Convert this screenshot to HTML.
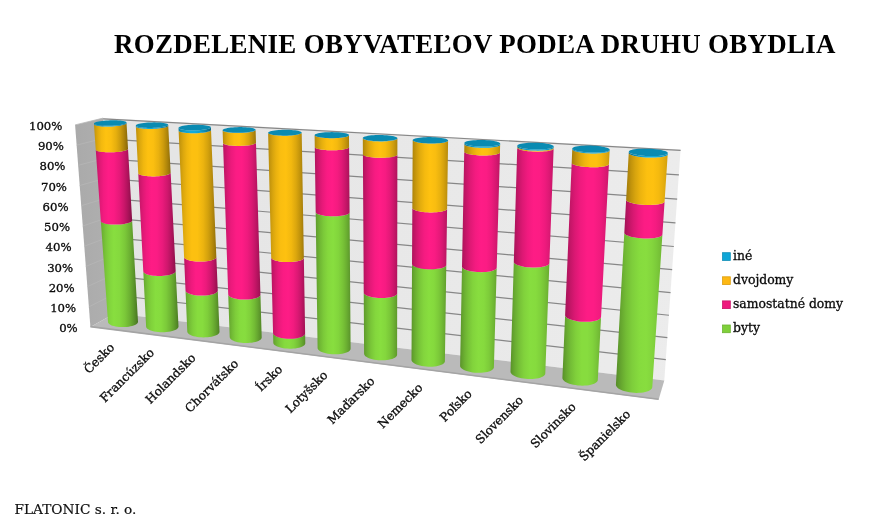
<!DOCTYPE html>
<html lang="sk"><head><meta charset="utf-8"><title>Rozdelenie obyvateľov podľa druhu obydlia</title>
<style>
html,body{margin:0;padding:0;background:#fff}
body{width:874px;height:529px;position:relative;overflow:hidden;font-family:"Liberation Serif",serif;color:#000}
h1{position:absolute;left:114px;top:29px;margin:0;font:bold 26.9px/30px "Liberation Serif",serif;white-space:nowrap;letter-spacing:0.33px}
.foot{position:absolute;left:14.5px;top:500.2px;font:13.68px/18px "DejaVu Serif","Liberation Serif",serif;white-space:nowrap;color:#111;-webkit-text-stroke:0.2px #111}
svg text{font-family:"DejaVu Serif","Liberation Serif",serif;fill:#0c0c0c;stroke:#0c0c0c;stroke-width:0.32px}
.ax{font-size:11.7px}
.cat{font-size:12px}
.leg{font-size:12.4px}
</style></head><body>
<h1>ROZDELENIE OBYVATEĽOV PODĽA DRUHU OBYDLIA</h1>
<svg width="874" height="529" viewBox="0 0 874 529" style="position:absolute;left:0;top:0">
<defs>
<linearGradient id="g_top" x1="0" x2="1" y1="0" y2="0"><stop offset="0" stop-color="#0a89b0"/><stop offset="1" stop-color="#0a8cb3"/></linearGradient>
<linearGradient id="g_bw" x1="0" x2="1" y1="0" y2="0"><stop offset="0" stop-color="#e4e4e4"/><stop offset="1" stop-color="#ececec"/></linearGradient>
<linearGradient id="g_sw" x1="0" x2="1" y1="0" y2="0"><stop offset="0" stop-color="#aaaaaa"/><stop offset="1" stop-color="#b0b0b0"/></linearGradient>
</defs>
<defs><linearGradient id="g_green_0"><stop offset="0" stop-color="#66a62f"/><stop offset="0.03" stop-color="#6baf32"/><stop offset="0.07" stop-color="#71b834"/><stop offset="0.13" stop-color="#79c538"/><stop offset="0.22" stop-color="#81d33c"/><stop offset="0.35" stop-color="#88de3f"/><stop offset="0.5" stop-color="#85d93e"/><stop offset="0.65" stop-color="#7bc839"/><stop offset="0.78" stop-color="#6cb032"/><stop offset="0.87" stop-color="#5e9a2c"/><stop offset="0.93" stop-color="#548927"/><stop offset="0.97" stop-color="#4d7d23"/><stop offset="1" stop-color="#477321"/></linearGradient><linearGradient id="g_pink_0"><stop offset="0" stop-color="#bf1564"/><stop offset="0.03" stop-color="#c81669"/><stop offset="0.07" stop-color="#d4176f"/><stop offset="0.13" stop-color="#e21977"/><stop offset="0.22" stop-color="#f31b80"/><stop offset="0.35" stop-color="#fe1c86"/><stop offset="0.5" stop-color="#fa1b83"/><stop offset="0.65" stop-color="#e61979"/><stop offset="0.78" stop-color="#ca166a"/><stop offset="0.87" stop-color="#b1135d"/><stop offset="0.93" stop-color="#9e1153"/><stop offset="0.97" stop-color="#90104b"/><stop offset="1" stop-color="#850f46"/></linearGradient><linearGradient id="g_yellow_0"><stop offset="0" stop-color="#bf920c"/><stop offset="0.03" stop-color="#c8990d"/><stop offset="0.07" stop-color="#d4a10d"/><stop offset="0.13" stop-color="#e2ac0e"/><stop offset="0.22" stop-color="#f3b90f"/><stop offset="0.35" stop-color="#fec210"/><stop offset="0.5" stop-color="#fabe10"/><stop offset="0.65" stop-color="#e6af0e"/><stop offset="0.78" stop-color="#ca9a0d"/><stop offset="0.87" stop-color="#b1860b"/><stop offset="0.93" stop-color="#9e780a"/><stop offset="0.97" stop-color="#906d09"/><stop offset="1" stop-color="#856508"/></linearGradient><linearGradient id="g_blue_0"><stop offset="0" stop-color="#0d81a5"/><stop offset="0.03" stop-color="#0d87ad"/><stop offset="0.07" stop-color="#0e8fb7"/><stop offset="0.13" stop-color="#0f99c3"/><stop offset="0.22" stop-color="#10a4d1"/><stop offset="0.35" stop-color="#11acdc"/><stop offset="0.5" stop-color="#11a8d7"/><stop offset="0.65" stop-color="#0f9bc6"/><stop offset="0.78" stop-color="#0d88ae"/><stop offset="0.87" stop-color="#0c7798"/><stop offset="0.93" stop-color="#0b6a88"/><stop offset="0.97" stop-color="#0a617c"/><stop offset="1" stop-color="#095972"/></linearGradient><linearGradient id="g_green_1"><stop offset="0" stop-color="#65a42f"/><stop offset="0.03" stop-color="#69ac31"/><stop offset="0.07" stop-color="#6fb634"/><stop offset="0.13" stop-color="#77c337"/><stop offset="0.22" stop-color="#80d13b"/><stop offset="0.35" stop-color="#87dd3f"/><stop offset="0.5" stop-color="#86db3e"/><stop offset="0.65" stop-color="#7ccb3a"/><stop offset="0.78" stop-color="#6eb433"/><stop offset="0.87" stop-color="#619f2d"/><stop offset="0.93" stop-color="#578f28"/><stop offset="0.97" stop-color="#508325"/><stop offset="1" stop-color="#4a7922"/></linearGradient><linearGradient id="g_pink_1"><stop offset="0" stop-color="#bc1563"/><stop offset="0.03" stop-color="#c61668"/><stop offset="0.07" stop-color="#d1176e"/><stop offset="0.13" stop-color="#df1975"/><stop offset="0.22" stop-color="#f01a7e"/><stop offset="0.35" stop-color="#fe1c85"/><stop offset="0.5" stop-color="#fb1c84"/><stop offset="0.65" stop-color="#e91a7b"/><stop offset="0.78" stop-color="#cf176d"/><stop offset="0.87" stop-color="#b61460"/><stop offset="0.93" stop-color="#a41256"/><stop offset="0.97" stop-color="#96114f"/><stop offset="1" stop-color="#8c0f49"/></linearGradient><linearGradient id="g_yellow_1"><stop offset="0" stop-color="#bc8f0c"/><stop offset="0.03" stop-color="#c6960c"/><stop offset="0.07" stop-color="#d19f0d"/><stop offset="0.13" stop-color="#dfaa0e"/><stop offset="0.22" stop-color="#f0b70f"/><stop offset="0.35" stop-color="#fec110"/><stop offset="0.5" stop-color="#fbbf10"/><stop offset="0.65" stop-color="#e9b10f"/><stop offset="0.78" stop-color="#cf9d0d"/><stop offset="0.87" stop-color="#b68b0b"/><stop offset="0.93" stop-color="#a47d0a"/><stop offset="0.97" stop-color="#967209"/><stop offset="1" stop-color="#8c6a09"/></linearGradient><linearGradient id="g_blue_1"><stop offset="0" stop-color="#0d7fa3"/><stop offset="0.03" stop-color="#0d85ab"/><stop offset="0.07" stop-color="#0e8db4"/><stop offset="0.13" stop-color="#0f97c1"/><stop offset="0.22" stop-color="#10a2cf"/><stop offset="0.35" stop-color="#11abdb"/><stop offset="0.5" stop-color="#11a9d9"/><stop offset="0.65" stop-color="#109dc9"/><stop offset="0.78" stop-color="#0e8bb2"/><stop offset="0.87" stop-color="#0c7b9d"/><stop offset="0.93" stop-color="#0b6e8d"/><stop offset="0.97" stop-color="#0a6582"/><stop offset="1" stop-color="#095e78"/></linearGradient><linearGradient id="g_green_2"><stop offset="0" stop-color="#63a22e"/><stop offset="0.03" stop-color="#68aa30"/><stop offset="0.07" stop-color="#6eb333"/><stop offset="0.13" stop-color="#76c037"/><stop offset="0.22" stop-color="#7fcf3b"/><stop offset="0.35" stop-color="#87dc3e"/><stop offset="0.5" stop-color="#87dc3e"/><stop offset="0.65" stop-color="#7ece3a"/><stop offset="0.78" stop-color="#71b834"/><stop offset="0.87" stop-color="#64a42e"/><stop offset="0.93" stop-color="#5b942a"/><stop offset="0.97" stop-color="#548927"/><stop offset="1" stop-color="#4e8024"/></linearGradient><linearGradient id="g_pink_2"><stop offset="0" stop-color="#ba1462"/><stop offset="0.03" stop-color="#c31566"/><stop offset="0.07" stop-color="#ce176c"/><stop offset="0.13" stop-color="#dd1874"/><stop offset="0.22" stop-color="#ee1a7d"/><stop offset="0.35" stop-color="#fd1c85"/><stop offset="0.5" stop-color="#fc1c85"/><stop offset="0.65" stop-color="#ec1a7c"/><stop offset="0.78" stop-color="#d3176f"/><stop offset="0.87" stop-color="#bc1563"/><stop offset="0.93" stop-color="#aa1359"/><stop offset="0.97" stop-color="#9d1152"/><stop offset="1" stop-color="#93104d"/></linearGradient><linearGradient id="g_yellow_2"><stop offset="0" stop-color="#ba8d0c"/><stop offset="0.03" stop-color="#c3940c"/><stop offset="0.07" stop-color="#ce9d0d"/><stop offset="0.13" stop-color="#dda80e"/><stop offset="0.22" stop-color="#eeb50f"/><stop offset="0.35" stop-color="#fdc010"/><stop offset="0.5" stop-color="#fcc010"/><stop offset="0.65" stop-color="#ecb40f"/><stop offset="0.78" stop-color="#d3a10d"/><stop offset="0.87" stop-color="#bc8f0c"/><stop offset="0.93" stop-color="#aa810b"/><stop offset="0.97" stop-color="#9d770a"/><stop offset="1" stop-color="#936f09"/></linearGradient><linearGradient id="g_blue_2"><stop offset="0" stop-color="#0c7da0"/><stop offset="0.03" stop-color="#0d83a8"/><stop offset="0.07" stop-color="#0e8bb2"/><stop offset="0.13" stop-color="#0f95be"/><stop offset="0.22" stop-color="#10a1cd"/><stop offset="0.35" stop-color="#11aada"/><stop offset="0.5" stop-color="#11aada"/><stop offset="0.65" stop-color="#109fcc"/><stop offset="0.78" stop-color="#0e8eb6"/><stop offset="0.87" stop-color="#0d7fa2"/><stop offset="0.93" stop-color="#0b7393"/><stop offset="0.97" stop-color="#0a6a87"/><stop offset="1" stop-color="#0a637e"/></linearGradient><linearGradient id="g_green_3"><stop offset="0" stop-color="#629f2d"/><stop offset="0.03" stop-color="#66a72f"/><stop offset="0.07" stop-color="#6cb132"/><stop offset="0.13" stop-color="#74be36"/><stop offset="0.22" stop-color="#7ecd3a"/><stop offset="0.35" stop-color="#86db3e"/><stop offset="0.5" stop-color="#87dd3f"/><stop offset="0.65" stop-color="#80d03b"/><stop offset="0.78" stop-color="#73bc35"/><stop offset="0.87" stop-color="#67a830"/><stop offset="0.93" stop-color="#5e992c"/><stop offset="0.97" stop-color="#578e28"/><stop offset="1" stop-color="#528626"/></linearGradient><linearGradient id="g_pink_3"><stop offset="0" stop-color="#b71460"/><stop offset="0.03" stop-color="#c01565"/><stop offset="0.07" stop-color="#cb166b"/><stop offset="0.13" stop-color="#da1873"/><stop offset="0.22" stop-color="#ec1a7c"/><stop offset="0.35" stop-color="#fb1c84"/><stop offset="0.5" stop-color="#fe1c85"/><stop offset="0.65" stop-color="#ef1a7e"/><stop offset="0.78" stop-color="#d81871"/><stop offset="0.87" stop-color="#c21566"/><stop offset="0.93" stop-color="#b0135d"/><stop offset="0.97" stop-color="#a41256"/><stop offset="1" stop-color="#991151"/></linearGradient><linearGradient id="g_yellow_3"><stop offset="0" stop-color="#b78b0b"/><stop offset="0.03" stop-color="#c0920c"/><stop offset="0.07" stop-color="#cb9b0d"/><stop offset="0.13" stop-color="#daa60e"/><stop offset="0.22" stop-color="#ecb30f"/><stop offset="0.35" stop-color="#fbbf10"/><stop offset="0.5" stop-color="#fec110"/><stop offset="0.65" stop-color="#efb60f"/><stop offset="0.78" stop-color="#d8a40e"/><stop offset="0.87" stop-color="#c2930c"/><stop offset="0.93" stop-color="#b0860b"/><stop offset="0.97" stop-color="#a47c0a"/><stop offset="1" stop-color="#99750a"/></linearGradient><linearGradient id="g_blue_3"><stop offset="0" stop-color="#0c7b9e"/><stop offset="0.03" stop-color="#0d81a6"/><stop offset="0.07" stop-color="#0e89af"/><stop offset="0.13" stop-color="#0f93bc"/><stop offset="0.22" stop-color="#109fcb"/><stop offset="0.35" stop-color="#11aad9"/><stop offset="0.5" stop-color="#11abdb"/><stop offset="0.65" stop-color="#10a1ce"/><stop offset="0.78" stop-color="#0e91ba"/><stop offset="0.87" stop-color="#0d83a7"/><stop offset="0.93" stop-color="#0c7798"/><stop offset="0.97" stop-color="#0b6e8d"/><stop offset="1" stop-color="#0a6884"/></linearGradient><linearGradient id="g_green_4"><stop offset="0" stop-color="#609d2d"/><stop offset="0.03" stop-color="#65a52f"/><stop offset="0.07" stop-color="#6bae31"/><stop offset="0.13" stop-color="#73bb35"/><stop offset="0.22" stop-color="#7ccb3a"/><stop offset="0.35" stop-color="#85da3e"/><stop offset="0.5" stop-color="#88dd3f"/><stop offset="0.65" stop-color="#81d33c"/><stop offset="0.78" stop-color="#75c036"/><stop offset="0.87" stop-color="#6aad31"/><stop offset="0.93" stop-color="#619f2d"/><stop offset="0.97" stop-color="#5b942a"/><stop offset="1" stop-color="#568c28"/></linearGradient><linearGradient id="g_pink_4"><stop offset="0" stop-color="#b4145f"/><stop offset="0.03" stop-color="#bd1563"/><stop offset="0.07" stop-color="#c81669"/><stop offset="0.13" stop-color="#d71871"/><stop offset="0.22" stop-color="#e91a7b"/><stop offset="0.35" stop-color="#fa1b83"/><stop offset="0.5" stop-color="#fe1c86"/><stop offset="0.65" stop-color="#f21b7f"/><stop offset="0.78" stop-color="#dc1874"/><stop offset="0.87" stop-color="#c71669"/><stop offset="0.93" stop-color="#b61460"/><stop offset="0.97" stop-color="#aa1359"/><stop offset="1" stop-color="#a01254"/></linearGradient><linearGradient id="g_yellow_4"><stop offset="0" stop-color="#b4890b"/><stop offset="0.03" stop-color="#bd900c"/><stop offset="0.07" stop-color="#c8980d"/><stop offset="0.13" stop-color="#d7a40e"/><stop offset="0.22" stop-color="#e9b10f"/><stop offset="0.35" stop-color="#fabe10"/><stop offset="0.5" stop-color="#fec110"/><stop offset="0.65" stop-color="#f2b80f"/><stop offset="0.78" stop-color="#dca70e"/><stop offset="0.87" stop-color="#c7970c"/><stop offset="0.93" stop-color="#b68b0b"/><stop offset="0.97" stop-color="#aa810b"/><stop offset="1" stop-color="#a07a0a"/></linearGradient><linearGradient id="g_blue_4"><stop offset="0" stop-color="#0c799b"/><stop offset="0.03" stop-color="#0d80a3"/><stop offset="0.07" stop-color="#0d87ad"/><stop offset="0.13" stop-color="#0e91ba"/><stop offset="0.22" stop-color="#109dc9"/><stop offset="0.35" stop-color="#11a9d8"/><stop offset="0.5" stop-color="#11acdb"/><stop offset="0.65" stop-color="#10a3d1"/><stop offset="0.78" stop-color="#0f94be"/><stop offset="0.87" stop-color="#0d86ac"/><stop offset="0.93" stop-color="#0c7b9d"/><stop offset="0.97" stop-color="#0b7393"/><stop offset="1" stop-color="#0b6c8a"/></linearGradient><linearGradient id="g_green_5"><stop offset="0" stop-color="#5f9a2c"/><stop offset="0.03" stop-color="#63a22e"/><stop offset="0.07" stop-color="#69ac31"/><stop offset="0.13" stop-color="#71b934"/><stop offset="0.22" stop-color="#7bc939"/><stop offset="0.35" stop-color="#85d83d"/><stop offset="0.5" stop-color="#88de3f"/><stop offset="0.65" stop-color="#82d53c"/><stop offset="0.78" stop-color="#78c337"/><stop offset="0.87" stop-color="#6db232"/><stop offset="0.93" stop-color="#64a42f"/><stop offset="0.97" stop-color="#5e9a2c"/><stop offset="1" stop-color="#599229"/></linearGradient><linearGradient id="g_pink_5"><stop offset="0" stop-color="#b1135d"/><stop offset="0.03" stop-color="#ba1462"/><stop offset="0.07" stop-color="#c51668"/><stop offset="0.13" stop-color="#d41770"/><stop offset="0.22" stop-color="#e71979"/><stop offset="0.35" stop-color="#f91b83"/><stop offset="0.5" stop-color="#ff1c86"/><stop offset="0.65" stop-color="#f51b80"/><stop offset="0.78" stop-color="#e01976"/><stop offset="0.87" stop-color="#cc166b"/><stop offset="0.93" stop-color="#bc1563"/><stop offset="0.97" stop-color="#b1135d"/><stop offset="1" stop-color="#a71258"/></linearGradient><linearGradient id="g_yellow_5"><stop offset="0" stop-color="#b1870b"/><stop offset="0.03" stop-color="#ba8e0c"/><stop offset="0.07" stop-color="#c5960c"/><stop offset="0.13" stop-color="#d4a20d"/><stop offset="0.22" stop-color="#e7b00e"/><stop offset="0.35" stop-color="#f9bd10"/><stop offset="0.5" stop-color="#ffc210"/><stop offset="0.65" stop-color="#f5ba0f"/><stop offset="0.78" stop-color="#e0ab0e"/><stop offset="0.87" stop-color="#cc9b0d"/><stop offset="0.93" stop-color="#bc8f0c"/><stop offset="0.97" stop-color="#b1860b"/><stop offset="1" stop-color="#a77f0b"/></linearGradient><linearGradient id="g_blue_5"><stop offset="0" stop-color="#0c7899"/><stop offset="0.03" stop-color="#0c7ea1"/><stop offset="0.07" stop-color="#0d85aa"/><stop offset="0.13" stop-color="#0e8fb7"/><stop offset="0.22" stop-color="#0f9cc7"/><stop offset="0.35" stop-color="#11a8d6"/><stop offset="0.5" stop-color="#11acdc"/><stop offset="0.65" stop-color="#10a5d3"/><stop offset="0.78" stop-color="#0f97c1"/><stop offset="0.87" stop-color="#0e8ab0"/><stop offset="0.93" stop-color="#0d7fa3"/><stop offset="0.97" stop-color="#0c7798"/><stop offset="1" stop-color="#0b7190"/></linearGradient><linearGradient id="g_green_6"><stop offset="0" stop-color="#5d982b"/><stop offset="0.03" stop-color="#62a02d"/><stop offset="0.07" stop-color="#68a930"/><stop offset="0.13" stop-color="#70b634"/><stop offset="0.22" stop-color="#7ac738"/><stop offset="0.35" stop-color="#84d73d"/><stop offset="0.5" stop-color="#88de3f"/><stop offset="0.65" stop-color="#84d73d"/><stop offset="0.78" stop-color="#7ac738"/><stop offset="0.87" stop-color="#70b634"/><stop offset="0.93" stop-color="#68a930"/><stop offset="0.97" stop-color="#62a02d"/><stop offset="1" stop-color="#5d982b"/></linearGradient><linearGradient id="g_pink_6"><stop offset="0" stop-color="#af135c"/><stop offset="0.03" stop-color="#b71460"/><stop offset="0.07" stop-color="#c31566"/><stop offset="0.13" stop-color="#d2176e"/><stop offset="0.22" stop-color="#e41978"/><stop offset="0.35" stop-color="#f71b82"/><stop offset="0.5" stop-color="#ff1c86"/><stop offset="0.65" stop-color="#f71b82"/><stop offset="0.78" stop-color="#e41978"/><stop offset="0.87" stop-color="#d1176e"/><stop offset="0.93" stop-color="#c21566"/><stop offset="0.97" stop-color="#b71460"/><stop offset="1" stop-color="#ae135c"/></linearGradient><linearGradient id="g_yellow_6"><stop offset="0" stop-color="#af850b"/><stop offset="0.03" stop-color="#b78c0c"/><stop offset="0.07" stop-color="#c3940c"/><stop offset="0.13" stop-color="#d29f0d"/><stop offset="0.22" stop-color="#e4ae0e"/><stop offset="0.35" stop-color="#f7bc0f"/><stop offset="0.5" stop-color="#ffc210"/><stop offset="0.65" stop-color="#f7bc0f"/><stop offset="0.78" stop-color="#e4ae0e"/><stop offset="0.87" stop-color="#d19f0d"/><stop offset="0.93" stop-color="#c2940c"/><stop offset="0.97" stop-color="#b78b0b"/><stop offset="1" stop-color="#ae850b"/></linearGradient><linearGradient id="g_blue_6"><stop offset="0" stop-color="#0c7697"/><stop offset="0.03" stop-color="#0c7c9e"/><stop offset="0.07" stop-color="#0d83a8"/><stop offset="0.13" stop-color="#0e8db5"/><stop offset="0.22" stop-color="#0f9ac5"/><stop offset="0.35" stop-color="#10a6d5"/><stop offset="0.5" stop-color="#11acdc"/><stop offset="0.65" stop-color="#10a6d5"/><stop offset="0.78" stop-color="#0f9ac5"/><stop offset="0.87" stop-color="#0e8db5"/><stop offset="0.93" stop-color="#0d83a8"/><stop offset="0.97" stop-color="#0c7c9e"/><stop offset="1" stop-color="#0c7696"/></linearGradient><linearGradient id="g_green_7"><stop offset="0" stop-color="#5c962a"/><stop offset="0.03" stop-color="#609d2d"/><stop offset="0.07" stop-color="#66a72f"/><stop offset="0.13" stop-color="#6eb433"/><stop offset="0.22" stop-color="#78c538"/><stop offset="0.35" stop-color="#83d53d"/><stop offset="0.5" stop-color="#88de3f"/><stop offset="0.65" stop-color="#85d93d"/><stop offset="0.78" stop-color="#7cca39"/><stop offset="0.87" stop-color="#72bb35"/><stop offset="0.93" stop-color="#6bae32"/><stop offset="0.97" stop-color="#65a52f"/><stop offset="1" stop-color="#619e2d"/></linearGradient><linearGradient id="g_pink_7"><stop offset="0" stop-color="#ac135a"/><stop offset="0.03" stop-color="#b5145f"/><stop offset="0.07" stop-color="#c01565"/><stop offset="0.13" stop-color="#cf176d"/><stop offset="0.22" stop-color="#e21977"/><stop offset="0.35" stop-color="#f51b81"/><stop offset="0.5" stop-color="#ff1c86"/><stop offset="0.65" stop-color="#f91b83"/><stop offset="0.78" stop-color="#e8197a"/><stop offset="0.87" stop-color="#d71871"/><stop offset="0.93" stop-color="#c81669"/><stop offset="0.97" stop-color="#be1564"/><stop offset="1" stop-color="#b5145f"/></linearGradient><linearGradient id="g_yellow_7"><stop offset="0" stop-color="#ac830b"/><stop offset="0.03" stop-color="#b5890b"/><stop offset="0.07" stop-color="#c0920c"/><stop offset="0.13" stop-color="#cf9d0d"/><stop offset="0.22" stop-color="#e2ac0e"/><stop offset="0.35" stop-color="#f5ba0f"/><stop offset="0.5" stop-color="#ffc210"/><stop offset="0.65" stop-color="#f9bd10"/><stop offset="0.78" stop-color="#e8b10f"/><stop offset="0.87" stop-color="#d7a30d"/><stop offset="0.93" stop-color="#c8980d"/><stop offset="0.97" stop-color="#be900c"/><stop offset="1" stop-color="#b58a0b"/></linearGradient><linearGradient id="g_blue_7"><stop offset="0" stop-color="#0b7494"/><stop offset="0.03" stop-color="#0c7a9c"/><stop offset="0.07" stop-color="#0d81a5"/><stop offset="0.13" stop-color="#0e8cb2"/><stop offset="0.22" stop-color="#0f98c3"/><stop offset="0.35" stop-color="#10a5d3"/><stop offset="0.5" stop-color="#11acdc"/><stop offset="0.65" stop-color="#11a8d7"/><stop offset="0.78" stop-color="#0f9cc8"/><stop offset="0.87" stop-color="#0e91b9"/><stop offset="0.93" stop-color="#0d87ad"/><stop offset="0.97" stop-color="#0d80a4"/><stop offset="1" stop-color="#0c7a9c"/></linearGradient><linearGradient id="g_green_8"><stop offset="0" stop-color="#5a932a"/><stop offset="0.03" stop-color="#5f9b2c"/><stop offset="0.07" stop-color="#65a42f"/><stop offset="0.13" stop-color="#6db232"/><stop offset="0.22" stop-color="#77c237"/><stop offset="0.35" stop-color="#82d43c"/><stop offset="0.5" stop-color="#88dd3f"/><stop offset="0.65" stop-color="#86da3e"/><stop offset="0.78" stop-color="#7ecd3a"/><stop offset="0.87" stop-color="#75bf36"/><stop offset="0.93" stop-color="#6eb433"/><stop offset="0.97" stop-color="#69ab30"/><stop offset="1" stop-color="#64a42f"/></linearGradient><linearGradient id="g_pink_8"><stop offset="0" stop-color="#a91359"/><stop offset="0.03" stop-color="#b2145d"/><stop offset="0.07" stop-color="#bd1563"/><stop offset="0.13" stop-color="#cc166b"/><stop offset="0.22" stop-color="#df1975"/><stop offset="0.35" stop-color="#f31b80"/><stop offset="0.5" stop-color="#fe1c86"/><stop offset="0.65" stop-color="#fb1c84"/><stop offset="0.78" stop-color="#ec1a7c"/><stop offset="0.87" stop-color="#db1873"/><stop offset="0.93" stop-color="#ce176c"/><stop offset="0.97" stop-color="#c41667"/><stop offset="1" stop-color="#bc1563"/></linearGradient><linearGradient id="g_yellow_8"><stop offset="0" stop-color="#a9810b"/><stop offset="0.03" stop-color="#b2870b"/><stop offset="0.07" stop-color="#bd900c"/><stop offset="0.13" stop-color="#cc9b0d"/><stop offset="0.22" stop-color="#dfaa0e"/><stop offset="0.35" stop-color="#f3b90f"/><stop offset="0.5" stop-color="#fec210"/><stop offset="0.65" stop-color="#fbbf10"/><stop offset="0.78" stop-color="#ecb30f"/><stop offset="0.87" stop-color="#dba70e"/><stop offset="0.93" stop-color="#ce9d0d"/><stop offset="0.97" stop-color="#c4950c"/><stop offset="1" stop-color="#bc8f0c"/></linearGradient><linearGradient id="g_blue_8"><stop offset="0" stop-color="#0b7292"/><stop offset="0.03" stop-color="#0c7899"/><stop offset="0.07" stop-color="#0d7fa3"/><stop offset="0.13" stop-color="#0e8ab0"/><stop offset="0.22" stop-color="#0f97c1"/><stop offset="0.35" stop-color="#10a4d2"/><stop offset="0.5" stop-color="#11acdb"/><stop offset="0.65" stop-color="#11a9d8"/><stop offset="0.78" stop-color="#109fcb"/><stop offset="0.87" stop-color="#0f94bd"/><stop offset="0.93" stop-color="#0e8bb2"/><stop offset="0.97" stop-color="#0d84a9"/><stop offset="1" stop-color="#0d7fa2"/></linearGradient><linearGradient id="g_green_9"><stop offset="0" stop-color="#599129"/><stop offset="0.03" stop-color="#5d982b"/><stop offset="0.07" stop-color="#63a22e"/><stop offset="0.13" stop-color="#6baf32"/><stop offset="0.22" stop-color="#76c037"/><stop offset="0.35" stop-color="#81d23c"/><stop offset="0.5" stop-color="#87dd3f"/><stop offset="0.65" stop-color="#86db3e"/><stop offset="0.78" stop-color="#7fd03b"/><stop offset="0.87" stop-color="#78c337"/><stop offset="0.93" stop-color="#71b934"/><stop offset="0.97" stop-color="#6cb032"/><stop offset="1" stop-color="#68aa30"/></linearGradient><linearGradient id="g_pink_9"><stop offset="0" stop-color="#a61257"/><stop offset="0.03" stop-color="#af135c"/><stop offset="0.07" stop-color="#ba1462"/><stop offset="0.13" stop-color="#c9166a"/><stop offset="0.22" stop-color="#dd1874"/><stop offset="0.35" stop-color="#f11a7f"/><stop offset="0.5" stop-color="#fe1c85"/><stop offset="0.65" stop-color="#fc1c84"/><stop offset="0.78" stop-color="#ef1a7e"/><stop offset="0.87" stop-color="#e01976"/><stop offset="0.93" stop-color="#d4176f"/><stop offset="0.97" stop-color="#cb166b"/><stop offset="1" stop-color="#c31567"/></linearGradient><linearGradient id="g_yellow_9"><stop offset="0" stop-color="#a67e0a"/><stop offset="0.03" stop-color="#af850b"/><stop offset="0.07" stop-color="#ba8e0c"/><stop offset="0.13" stop-color="#c9990d"/><stop offset="0.22" stop-color="#dda80e"/><stop offset="0.35" stop-color="#f1b80f"/><stop offset="0.5" stop-color="#fec110"/><stop offset="0.65" stop-color="#fcc010"/><stop offset="0.78" stop-color="#efb60f"/><stop offset="0.87" stop-color="#e0ab0e"/><stop offset="0.93" stop-color="#d4a10d"/><stop offset="0.97" stop-color="#cb9a0d"/><stop offset="1" stop-color="#c3940c"/></linearGradient><linearGradient id="g_blue_9"><stop offset="0" stop-color="#0b708f"/><stop offset="0.03" stop-color="#0c7697"/><stop offset="0.07" stop-color="#0c7ea1"/><stop offset="0.13" stop-color="#0d88ae"/><stop offset="0.22" stop-color="#0f95be"/><stop offset="0.35" stop-color="#10a3d0"/><stop offset="0.5" stop-color="#11abdb"/><stop offset="0.65" stop-color="#11aad9"/><stop offset="0.78" stop-color="#10a1ce"/><stop offset="0.87" stop-color="#0f97c1"/><stop offset="0.93" stop-color="#0e8fb7"/><stop offset="0.97" stop-color="#0e89af"/><stop offset="1" stop-color="#0d84a8"/></linearGradient><linearGradient id="g_green_10"><stop offset="0" stop-color="#578e28"/><stop offset="0.03" stop-color="#5c962b"/><stop offset="0.07" stop-color="#62a02d"/><stop offset="0.13" stop-color="#6aad31"/><stop offset="0.22" stop-color="#74be36"/><stop offset="0.35" stop-color="#80d03b"/><stop offset="0.5" stop-color="#87dc3e"/><stop offset="0.65" stop-color="#87dc3f"/><stop offset="0.78" stop-color="#81d33c"/><stop offset="0.87" stop-color="#7ac739"/><stop offset="0.93" stop-color="#74bd36"/><stop offset="0.97" stop-color="#70b634"/><stop offset="1" stop-color="#6cb032"/></linearGradient><linearGradient id="g_pink_10"><stop offset="0" stop-color="#a31256"/><stop offset="0.03" stop-color="#ac135b"/><stop offset="0.07" stop-color="#b71460"/><stop offset="0.13" stop-color="#c61668"/><stop offset="0.22" stop-color="#da1873"/><stop offset="0.35" stop-color="#ef1a7e"/><stop offset="0.5" stop-color="#fd1c85"/><stop offset="0.65" stop-color="#fd1c85"/><stop offset="0.78" stop-color="#f21b7f"/><stop offset="0.87" stop-color="#e51978"/><stop offset="0.93" stop-color="#da1872"/><stop offset="0.97" stop-color="#d1176e"/><stop offset="1" stop-color="#ca166a"/></linearGradient><linearGradient id="g_yellow_10"><stop offset="0" stop-color="#a37c0a"/><stop offset="0.03" stop-color="#ac830b"/><stop offset="0.07" stop-color="#b78b0c"/><stop offset="0.13" stop-color="#c6970c"/><stop offset="0.22" stop-color="#daa60e"/><stop offset="0.35" stop-color="#efb60f"/><stop offset="0.5" stop-color="#fdc010"/><stop offset="0.65" stop-color="#fdc110"/><stop offset="0.78" stop-color="#f2b80f"/><stop offset="0.87" stop-color="#e5ae0e"/><stop offset="0.93" stop-color="#daa60e"/><stop offset="0.97" stop-color="#d19f0d"/><stop offset="1" stop-color="#ca9a0d"/></linearGradient><linearGradient id="g_blue_10"><stop offset="0" stop-color="#0b6e8d"/><stop offset="0.03" stop-color="#0b7495"/><stop offset="0.07" stop-color="#0c7c9e"/><stop offset="0.13" stop-color="#0d86ab"/><stop offset="0.22" stop-color="#0f93bc"/><stop offset="0.35" stop-color="#10a1ce"/><stop offset="0.5" stop-color="#11abda"/><stop offset="0.65" stop-color="#11abda"/><stop offset="0.78" stop-color="#10a3d1"/><stop offset="0.87" stop-color="#0f9ac5"/><stop offset="0.93" stop-color="#0f93bc"/><stop offset="0.97" stop-color="#0e8db4"/><stop offset="1" stop-color="#0d88ae"/></linearGradient><linearGradient id="g_green_11"><stop offset="0" stop-color="#568c28"/><stop offset="0.03" stop-color="#5a932a"/><stop offset="0.07" stop-color="#609d2d"/><stop offset="0.13" stop-color="#68aa30"/><stop offset="0.22" stop-color="#73bc35"/><stop offset="0.35" stop-color="#7ece3b"/><stop offset="0.5" stop-color="#86db3e"/><stop offset="0.65" stop-color="#88dd3f"/><stop offset="0.78" stop-color="#83d53d"/><stop offset="0.87" stop-color="#7ccb3a"/><stop offset="0.93" stop-color="#77c237"/><stop offset="0.97" stop-color="#73bc35"/><stop offset="1" stop-color="#70b634"/></linearGradient><linearGradient id="g_pink_11"><stop offset="0" stop-color="#a11254"/><stop offset="0.03" stop-color="#a91359"/><stop offset="0.07" stop-color="#b4145f"/><stop offset="0.13" stop-color="#c41567"/><stop offset="0.22" stop-color="#d71871"/><stop offset="0.35" stop-color="#ed1a7d"/><stop offset="0.5" stop-color="#fc1c84"/><stop offset="0.65" stop-color="#fe1c86"/><stop offset="0.78" stop-color="#f51b81"/><stop offset="0.87" stop-color="#e91a7b"/><stop offset="0.93" stop-color="#df1975"/><stop offset="0.97" stop-color="#d71871"/><stop offset="1" stop-color="#d1176e"/></linearGradient><linearGradient id="g_yellow_11"><stop offset="0" stop-color="#a17a0a"/><stop offset="0.03" stop-color="#a9810b"/><stop offset="0.07" stop-color="#b4890b"/><stop offset="0.13" stop-color="#c4950c"/><stop offset="0.22" stop-color="#d7a40e"/><stop offset="0.35" stop-color="#edb40f"/><stop offset="0.5" stop-color="#fcc010"/><stop offset="0.65" stop-color="#fec110"/><stop offset="0.78" stop-color="#f5ba0f"/><stop offset="0.87" stop-color="#e9b10f"/><stop offset="0.93" stop-color="#dfaa0e"/><stop offset="0.97" stop-color="#d7a40e"/><stop offset="1" stop-color="#d19f0d"/></linearGradient><linearGradient id="g_blue_11"><stop offset="0" stop-color="#0b6c8b"/><stop offset="0.03" stop-color="#0b7292"/><stop offset="0.07" stop-color="#0c7a9c"/><stop offset="0.13" stop-color="#0d84a9"/><stop offset="0.22" stop-color="#0e91ba"/><stop offset="0.35" stop-color="#10a0cd"/><stop offset="0.5" stop-color="#11aad9"/><stop offset="0.65" stop-color="#11abdb"/><stop offset="0.78" stop-color="#10a5d3"/><stop offset="0.87" stop-color="#109dc9"/><stop offset="0.93" stop-color="#0f97c1"/><stop offset="0.97" stop-color="#0e91ba"/><stop offset="1" stop-color="#0e8db4"/></linearGradient></defs>
<polygon points="103.1,118.1 680.6,149.5 664.3,380.5 114.9,313.2" fill="url(#g_bw)" />
<polygon points="75.1,124.9 103.1,118.1 114.9,313.2 90.4,327.1" fill="url(#g_sw)" />
<polygon points="90.4,327.1 114.9,313.2 664.3,380.5 658.6,399.7" fill="#bababa" />
<line x1="90.4" y1="326.6" x2="658.6" y2="399.2" stroke="#a4a4a4" stroke-width="1.6"/>
<line x1="103.1" y1="118.9" x2="680.6" y2="150.3" stroke="#878787" stroke-width="1.2"/>
<line x1="75.1" y1="124.9" x2="103.1" y2="118.1" stroke="#b6b6b6" stroke-width="0.8"/>
<line x1="104.31" y1="138.94" x2="678.87" y2="174.85" stroke="#878787" stroke-width="1.2"/>
<line x1="76.63" y1="145.12" x2="104.31" y2="138.14" stroke="#b6b6b6" stroke-width="0.8"/>
<line x1="105.52" y1="158.85" x2="677.16" y2="199.05" stroke="#878787" stroke-width="1.2"/>
<line x1="78.16" y1="165.34" x2="105.52" y2="158.05" stroke="#b6b6b6" stroke-width="0.8"/>
<line x1="106.71" y1="178.65" x2="675.48" y2="222.93" stroke="#878787" stroke-width="1.2"/>
<line x1="79.69" y1="185.56" x2="106.71" y2="177.85" stroke="#b6b6b6" stroke-width="0.8"/>
<line x1="107.9" y1="198.33" x2="673.81" y2="246.48" stroke="#878787" stroke-width="1.2"/>
<line x1="81.22" y1="205.78" x2="107.9" y2="197.53" stroke="#b6b6b6" stroke-width="0.8"/>
<line x1="109.09" y1="217.89" x2="672.17" y2="269.71" stroke="#878787" stroke-width="1.2"/>
<line x1="82.75" y1="226" x2="109.09" y2="217.09" stroke="#b6b6b6" stroke-width="0.8"/>
<line x1="110.26" y1="237.34" x2="670.56" y2="292.62" stroke="#878787" stroke-width="1.2"/>
<line x1="84.28" y1="246.22" x2="110.26" y2="236.54" stroke="#b6b6b6" stroke-width="0.8"/>
<line x1="111.43" y1="256.67" x2="668.96" y2="315.24" stroke="#878787" stroke-width="1.2"/>
<line x1="85.81" y1="266.44" x2="111.43" y2="255.87" stroke="#b6b6b6" stroke-width="0.8"/>
<line x1="112.6" y1="275.89" x2="667.39" y2="337.55" stroke="#878787" stroke-width="1.2"/>
<line x1="87.34" y1="286.66" x2="112.6" y2="275.09" stroke="#b6b6b6" stroke-width="0.8"/>
<line x1="113.75" y1="295" x2="665.83" y2="359.57" stroke="#878787" stroke-width="1.2"/>
<line x1="88.87" y1="306.88" x2="113.75" y2="294.2" stroke="#b6b6b6" stroke-width="0.8"/>
<path d="M108,322 L108.13,322.67 L108.51,323.34 L109.14,323.97 L110.01,324.58 L111.1,325.13 L112.39,325.64 L113.87,326.08 L115.5,326.44 L117.26,326.73 L119.12,326.94 L121.04,327.07 L123,327.1 L124.96,327.05 L126.88,326.9 L128.74,326.68 L130.5,326.37 L132.13,325.98 L133.61,325.53 L134.9,325.02 L135.99,324.45 L136.86,323.84 L137.49,323.19 L137.87,322.53 L138,321.85 L132.14,220.39 L132.01,220.9 L131.61,221.42 L130.95,221.91 L130.05,222.39 L128.91,222.84 L127.56,223.25 L126.02,223.62 L124.31,223.93 L122.48,224.19 L120.54,224.39 L118.53,224.53 L116.48,224.6 L114.44,224.6 L112.43,224.54 L110.49,224.41 L108.65,224.21 L106.95,223.96 L105.41,223.64 L104.06,223.28 L102.92,222.87 L102.01,222.43 L101.35,221.95 L100.96,221.45 L100.82,220.94Z" fill="url(#g_green_0)"/>
<path d="M100.82,220.94 L100.96,221.45 L101.35,221.95 L102.01,222.43 L102.92,222.87 L104.06,223.28 L105.41,223.64 L106.95,223.96 L108.65,224.21 L110.49,224.41 L112.43,224.54 L114.44,224.6 L116.48,224.6 L118.53,224.53 L120.54,224.39 L122.48,224.19 L124.31,223.93 L126.02,223.62 L127.56,223.25 L128.91,222.84 L130.05,222.39 L130.95,221.91 L131.61,221.42 L132.01,220.9 L132.14,220.39 L128.02,148.81 L127.88,149.21 L127.47,149.62 L126.79,150.01 L125.85,150.4 L124.68,150.76 L123.29,151.1 L121.7,151.41 L119.95,151.67 L118.06,151.9 L116.06,152.08 L113.99,152.22 L111.89,152.3 L109.78,152.33 L107.71,152.31 L105.71,152.23 L103.82,152.11 L102.07,151.93 L100.48,151.71 L99.09,151.44 L97.92,151.14 L96.99,150.81 L96.31,150.45 L95.9,150.07 L95.76,149.67Z" fill="url(#g_pink_0)"/>
<path d="M95.76,149.67 L95.9,150.07 L96.31,150.45 L96.99,150.81 L97.92,151.14 L99.09,151.44 L100.48,151.71 L102.07,151.93 L103.82,152.11 L105.71,152.23 L107.71,152.31 L109.78,152.33 L111.89,152.3 L113.99,152.22 L116.06,152.08 L118.06,151.9 L119.95,151.67 L121.7,151.41 L123.29,151.1 L124.68,150.76 L125.85,150.4 L126.79,150.01 L127.47,149.62 L127.88,149.21 L128.02,148.81 L126.54,123.27 L126.4,123.63 L125.99,123.99 L125.3,124.35 L124.36,124.7 L123.17,125.04 L121.77,125.35 L120.17,125.64 L118.39,125.89 L116.48,126.1 L114.46,126.28 L112.37,126.41 L110.25,126.5 L108.12,126.54 L106.03,126.53 L104.01,126.48 L102.1,126.38 L100.33,126.23 L98.72,126.04 L97.32,125.81 L96.13,125.55 L95.19,125.25 L94.51,124.93 L94.09,124.59 L93.95,124.24Z" fill="url(#g_yellow_0)"/>
<path d="M93.95,124.24 L94.09,124.59 L94.51,124.93 L95.19,125.25 L96.13,125.55 L97.32,125.81 L98.72,126.04 L100.33,126.23 L102.1,126.38 L104.01,126.48 L106.03,126.53 L108.12,126.54 L110.25,126.5 L112.37,126.41 L114.46,126.28 L116.48,126.1 L118.39,125.89 L120.17,125.64 L121.77,125.35 L123.17,125.04 L124.36,124.7 L125.3,124.35 L125.99,123.99 L126.4,123.63 L126.54,123.27 L126.5,122.55 L126.36,122.91 L125.94,123.27 L125.26,123.63 L124.32,123.98 L123.13,124.32 L121.73,124.63 L120.12,124.91 L118.35,125.17 L116.44,125.38 L114.42,125.56 L112.33,125.69 L110.2,125.78 L108.07,125.82 L105.98,125.81 L103.96,125.76 L102.05,125.65 L100.28,125.51 L98.67,125.32 L97.27,125.09 L96.08,124.83 L95.14,124.54 L94.46,124.22 L94.04,123.88 L93.9,123.53Z" fill="url(#g_blue_0)"/>
<path d="M126.5,122.55 L126.36,122.91 L125.94,123.27 L125.26,123.63 L124.32,123.98 L123.13,124.32 L121.73,124.63 L120.12,124.91 L118.35,125.17 L116.44,125.38 L114.42,125.56 L112.33,125.69 L110.2,125.78 L108.07,125.82 L105.98,125.81 L103.96,125.76 L102.05,125.65 L100.28,125.51 L98.67,125.32 L97.27,125.09 L96.08,124.83 L95.14,124.54 L94.46,124.22 L94.04,123.88 L93.9,123.53 L94.04,123.17 L94.46,122.8 L95.14,122.44 L96.08,122.09 L97.27,121.76 L98.67,121.45 L100.28,121.16 L102.05,120.91 L103.96,120.7 L105.98,120.52 L108.07,120.39 L110.2,120.3 L112.33,120.26 L114.42,120.27 L116.44,120.32 L118.35,120.42 L120.12,120.57 L121.73,120.76 L123.13,120.98 L124.32,121.25 L125.26,121.54 L125.94,121.86 L126.36,122.2 L126.5,122.55Z" fill="url(#g_top)"/>
<path d="M146.1,326.54 L146.24,327.28 L146.65,328.01 L147.33,328.7 L148.27,329.37 L149.45,329.98 L150.84,330.54 L152.44,331.03 L154.2,331.44 L156.1,331.77 L158.11,332 L160.19,332.15 L162.3,332.2 L164.41,332.15 L166.49,332.01 L168.5,331.78 L170.4,331.45 L172.16,331.04 L173.76,330.56 L175.15,330 L176.33,329.39 L177.27,328.73 L177.95,328.03 L178.36,327.31 L178.5,326.57 L175.67,271.06 L175.53,271.69 L175.11,272.32 L174.43,272.92 L173.5,273.49 L172.32,274.03 L170.92,274.51 L169.33,274.94 L167.57,275.3 L165.67,275.59 L163.66,275.81 L161.58,275.95 L159.47,276 L157.35,275.97 L155.27,275.86 L153.27,275.67 L151.37,275.4 L149.6,275.06 L148.01,274.65 L146.61,274.18 L145.44,273.66 L144.5,273.1 L143.82,272.5 L143.41,271.88 L143.27,271.25Z" fill="url(#g_green_1)"/>
<path d="M143.27,271.25 L143.41,271.88 L143.82,272.5 L144.5,273.1 L145.44,273.66 L146.61,274.18 L148.01,274.65 L149.6,275.06 L151.37,275.4 L153.27,275.67 L155.27,275.86 L157.35,275.97 L159.47,276 L161.58,275.95 L163.66,275.81 L165.67,275.59 L167.57,275.3 L169.33,274.94 L170.92,274.51 L172.32,274.03 L173.5,273.49 L174.43,272.92 L175.11,272.32 L175.53,271.69 L175.67,271.06 L170.65,172.67 L170.51,173.12 L170.09,173.57 L169.41,174.01 L168.47,174.43 L167.3,174.82 L165.9,175.19 L164.31,175.51 L162.55,175.79 L160.64,176.03 L158.64,176.21 L156.56,176.33 L154.45,176.4 L152.33,176.41 L150.25,176.36 L148.25,176.25 L146.35,176.09 L144.58,175.87 L142.99,175.6 L141.59,175.29 L140.42,174.94 L139.48,174.55 L138.8,174.14 L138.38,173.7 L138.25,173.26Z" fill="url(#g_pink_1)"/>
<path d="M138.25,173.26 L138.38,173.7 L138.8,174.14 L139.48,174.55 L140.42,174.94 L141.59,175.29 L142.99,175.6 L144.58,175.87 L146.35,176.09 L148.25,176.25 L150.25,176.36 L152.33,176.41 L154.45,176.4 L156.56,176.33 L158.64,176.21 L160.64,176.03 L162.55,175.79 L164.31,175.51 L165.9,175.19 L167.3,174.82 L168.47,174.43 L169.41,174.01 L170.09,173.57 L170.51,173.12 L170.65,172.67 L168.25,125.75 L168.11,126.11 L167.7,126.48 L167.02,126.83 L166.08,127.18 L164.9,127.51 L163.51,127.82 L161.91,128.09 L160.15,128.34 L158.25,128.54 L156.24,128.71 L154.16,128.83 L152.05,128.9 L149.94,128.93 L147.86,128.91 L145.85,128.84 L143.95,128.72 L142.19,128.56 L140.6,128.36 L139.2,128.13 L138.02,127.85 L137.08,127.55 L136.4,127.23 L135.99,126.88 L135.85,126.52Z" fill="url(#g_yellow_1)"/>
<path d="M135.85,126.52 L135.99,126.88 L136.4,127.23 L137.08,127.55 L138.02,127.85 L139.2,128.13 L140.6,128.36 L142.19,128.56 L143.95,128.72 L145.85,128.84 L147.86,128.91 L149.94,128.93 L152.05,128.9 L154.16,128.83 L156.24,128.71 L158.25,128.54 L160.15,128.34 L161.91,128.09 L163.51,127.82 L164.9,127.51 L166.08,127.18 L167.02,126.83 L167.7,126.48 L168.11,126.11 L168.25,125.75 L168.2,124.76 L168.06,125.12 L167.65,125.49 L166.97,125.84 L166.03,126.19 L164.85,126.52 L163.46,126.82 L161.86,127.1 L160.1,127.34 L158.2,127.54 L156.19,127.71 L154.11,127.83 L152,127.9 L149.89,127.93 L147.81,127.91 L145.8,127.84 L143.9,127.73 L142.14,127.57 L140.54,127.37 L139.15,127.14 L137.97,126.86 L137.03,126.56 L136.35,126.24 L135.94,125.9 L135.8,125.54Z" fill="url(#g_blue_1)"/>
<path d="M168.2,124.76 L168.06,125.12 L167.65,125.49 L166.97,125.84 L166.03,126.19 L164.85,126.52 L163.46,126.82 L161.86,127.1 L160.1,127.34 L158.2,127.54 L156.19,127.71 L154.11,127.83 L152,127.9 L149.89,127.93 L147.81,127.91 L145.8,127.84 L143.9,127.73 L142.14,127.57 L140.54,127.37 L139.15,127.14 L137.97,126.86 L137.03,126.56 L136.35,126.24 L135.94,125.9 L135.8,125.54 L135.94,125.18 L136.35,124.82 L137.03,124.46 L137.97,124.11 L139.15,123.79 L140.54,123.48 L142.14,123.21 L143.9,122.96 L145.8,122.76 L147.81,122.59 L149.89,122.47 L152,122.4 L154.11,122.37 L156.19,122.39 L158.2,122.46 L160.1,122.57 L161.86,122.73 L163.46,122.93 L164.85,123.17 L166.03,123.44 L166.97,123.74 L167.65,124.06 L168.06,124.41 L168.2,124.76Z" fill="url(#g_top)"/>
<path d="M187.3,331.63 L187.44,332.37 L187.85,333.1 L188.53,333.81 L189.46,334.48 L190.63,335.1 L192.02,335.67 L193.6,336.16 L195.35,336.59 L197.24,336.93 L199.23,337.18 L201.3,337.34 L203.4,337.4 L205.5,337.37 L207.57,337.24 L209.56,337.01 L211.45,336.7 L213.2,336.3 L214.78,335.82 L216.17,335.27 L217.34,334.67 L218.27,334.01 L218.95,333.31 L219.36,332.59 L219.5,331.85 L217.76,290.55 L217.63,291.21 L217.21,291.87 L216.54,292.49 L215.6,293.09 L214.43,293.64 L213.04,294.13 L211.46,294.57 L209.7,294.93 L207.81,295.22 L205.82,295.43 L203.75,295.56 L201.64,295.6 L199.54,295.55 L197.47,295.42 L195.47,295.2 L193.58,294.91 L191.83,294.53 L190.24,294.09 L188.85,293.59 L187.68,293.04 L186.75,292.44 L186.07,291.81 L185.66,291.16 L185.52,290.5Z" fill="url(#g_green_2)"/>
<path d="M185.52,290.5 L185.66,291.16 L186.07,291.81 L186.75,292.44 L187.68,293.04 L188.85,293.59 L190.24,294.09 L191.83,294.53 L193.58,294.91 L195.47,295.2 L197.47,295.42 L199.54,295.55 L201.64,295.6 L203.75,295.56 L205.82,295.43 L207.81,295.22 L209.7,294.93 L211.46,294.57 L213.04,294.13 L214.43,293.64 L215.6,293.09 L216.54,292.49 L217.21,291.87 L217.63,291.21 L217.76,290.55 L216.35,256.96 L216.21,257.56 L215.8,258.15 L215.12,258.72 L214.19,259.27 L213.02,259.77 L211.63,260.22 L210.04,260.63 L208.28,260.96 L206.39,261.24 L204.39,261.43 L202.32,261.56 L200.21,261.6 L198.11,261.57 L196.04,261.45 L194.04,261.26 L192.15,261 L190.39,260.67 L188.8,260.28 L187.41,259.83 L186.24,259.33 L185.31,258.79 L184.63,258.22 L184.22,257.63 L184.08,257.03Z" fill="url(#g_pink_2)"/>
<path d="M184.08,257.03 L184.22,257.63 L184.63,258.22 L185.31,258.79 L186.24,259.33 L187.41,259.83 L188.8,260.28 L190.39,260.67 L192.15,261 L194.04,261.26 L196.04,261.45 L198.11,261.57 L200.21,261.6 L202.32,261.56 L204.39,261.43 L206.39,261.24 L208.28,260.96 L210.04,260.63 L211.63,260.22 L213.02,259.77 L214.19,259.27 L215.12,258.72 L215.8,258.15 L216.21,257.56 L216.35,256.96 L211.02,130.09 L210.88,130.46 L210.47,130.83 L209.78,131.19 L208.85,131.54 L207.67,131.87 L206.27,132.17 L204.68,132.44 L202.92,132.68 L201.02,132.87 L199.01,133.03 L196.93,133.14 L194.82,133.2 L192.7,133.21 L190.63,133.18 L188.62,133.1 L186.72,132.97 L184.96,132.79 L183.37,132.58 L181.97,132.33 L180.79,132.04 L179.85,131.73 L179.17,131.39 L178.76,131.03 L178.62,130.67Z" fill="url(#g_yellow_2)"/>
<path d="M178.62,130.67 L178.76,131.03 L179.17,131.39 L179.85,131.73 L180.79,132.04 L181.97,132.33 L183.37,132.58 L184.96,132.79 L186.72,132.97 L188.62,133.1 L190.63,133.18 L192.7,133.21 L194.82,133.2 L196.93,133.14 L199.01,133.03 L201.02,132.87 L202.92,132.68 L204.68,132.44 L206.27,132.17 L207.67,131.87 L208.85,131.54 L209.78,131.19 L210.47,130.83 L210.88,130.46 L211.02,130.09 L210.9,127.29 L210.76,127.65 L210.35,128.02 L209.67,128.37 L208.73,128.72 L207.55,129.04 L206.16,129.34 L204.56,129.61 L202.8,129.84 L200.9,130.04 L198.89,130.19 L196.81,130.3 L194.7,130.36 L192.59,130.38 L190.51,130.34 L188.5,130.26 L186.6,130.14 L184.84,129.97 L183.24,129.75 L181.85,129.51 L180.67,129.23 L179.73,128.92 L179.05,128.58 L178.64,128.24 L178.5,127.88Z" fill="url(#g_blue_2)"/>
<path d="M210.9,127.29 L210.76,127.65 L210.35,128.02 L209.67,128.37 L208.73,128.72 L207.55,129.04 L206.16,129.34 L204.56,129.61 L202.8,129.84 L200.9,130.04 L198.89,130.19 L196.81,130.3 L194.7,130.36 L192.59,130.38 L190.51,130.34 L188.5,130.26 L186.6,130.14 L184.84,129.97 L183.24,129.75 L181.85,129.51 L180.67,129.23 L179.73,128.92 L179.05,128.58 L178.64,128.24 L178.5,127.88 L178.64,127.51 L179.05,127.15 L179.73,126.79 L180.67,126.45 L181.85,126.12 L183.24,125.82 L184.84,125.55 L186.6,125.32 L188.5,125.12 L190.51,124.97 L192.59,124.86 L194.7,124.8 L196.81,124.79 L198.89,124.82 L200.9,124.9 L202.8,125.03 L204.56,125.2 L206.16,125.41 L207.55,125.65 L208.73,125.94 L209.67,126.24 L210.35,126.58 L210.76,126.93 L210.9,127.29Z" fill="url(#g_top)"/>
<path d="M229.7,337.12 L229.84,337.87 L230.25,338.6 L230.92,339.31 L231.84,339.99 L233.01,340.62 L234.39,341.19 L235.96,341.7 L237.7,342.14 L239.58,342.49 L241.56,342.75 L243.61,342.92 L245.7,343 L247.79,342.98 L249.84,342.86 L251.82,342.65 L253.7,342.34 L255.44,341.95 L257.01,341.48 L258.39,340.94 L259.56,340.34 L260.48,339.69 L261.15,338.99 L261.56,338.27 L261.7,337.53 L260.44,294.63 L260.3,295.29 L259.89,295.94 L259.21,296.57 L258.28,297.16 L257.11,297.7 L255.72,298.19 L254.14,298.62 L252.39,298.98 L250.5,299.26 L248.5,299.46 L246.44,299.57 L244.34,299.6 L242.24,299.54 L240.17,299.39 L238.17,299.17 L236.29,298.86 L234.53,298.47 L232.95,298.02 L231.56,297.51 L230.39,296.95 L229.46,296.34 L228.78,295.71 L228.37,295.05 L228.23,294.39Z" fill="url(#g_green_3)"/>
<path d="M228.23,294.39 L228.37,295.05 L228.78,295.71 L229.46,296.34 L230.39,296.95 L231.56,297.51 L232.95,298.02 L234.53,298.47 L236.29,298.86 L238.17,299.17 L240.17,299.39 L242.24,299.54 L244.34,299.6 L246.44,299.57 L248.5,299.46 L250.5,299.26 L252.39,298.98 L254.14,298.62 L255.72,298.19 L257.11,297.7 L258.28,297.16 L259.21,296.57 L259.89,295.94 L260.3,295.29 L260.44,294.63 L255.98,142.69 L255.84,143.08 L255.42,143.48 L254.73,143.86 L253.77,144.23 L252.58,144.57 L251.16,144.89 L249.54,145.16 L247.75,145.4 L245.81,145.6 L243.77,145.75 L241.66,145.85 L239.51,145.9 L237.36,145.9 L235.25,145.84 L233.21,145.74 L231.28,145.58 L229.48,145.38 L227.87,145.14 L226.44,144.85 L225.25,144.53 L224.3,144.19 L223.6,143.82 L223.18,143.43 L223.04,143.04Z" fill="url(#g_pink_3)"/>
<path d="M223.04,143.04 L223.18,143.43 L223.6,143.82 L224.3,144.19 L225.25,144.53 L226.44,144.85 L227.87,145.14 L229.48,145.38 L231.28,145.58 L233.21,145.74 L235.25,145.84 L237.36,145.9 L239.51,145.9 L241.66,145.85 L243.77,145.75 L245.81,145.6 L247.75,145.4 L249.54,145.16 L251.16,144.89 L252.58,144.57 L253.77,144.23 L254.73,143.86 L255.42,143.48 L255.84,143.08 L255.98,142.69 L255.61,129.93 L255.46,130.31 L255.04,130.68 L254.35,131.05 L253.39,131.39 L252.2,131.72 L250.77,132.02 L249.15,132.29 L247.36,132.52 L245.42,132.7 L243.38,132.85 L241.26,132.95 L239.11,133 L236.95,133 L234.84,132.95 L232.79,132.86 L230.86,132.72 L229.06,132.53 L227.44,132.3 L226.02,132.04 L224.82,131.74 L223.86,131.42 L223.17,131.07 L222.75,130.71 L222.61,130.34Z" fill="url(#g_yellow_3)"/>
<path d="M222.61,130.34 L222.75,130.71 L223.17,131.07 L223.86,131.42 L224.82,131.74 L226.02,132.04 L227.44,132.3 L229.06,132.53 L230.86,132.72 L232.79,132.86 L234.84,132.95 L236.95,133 L239.11,133 L241.26,132.95 L243.38,132.85 L245.42,132.7 L247.36,132.52 L249.15,132.29 L250.77,132.02 L252.2,131.72 L253.39,131.39 L254.35,131.05 L255.04,130.68 L255.46,130.31 L255.61,129.93 L255.6,129.76 L255.46,130.13 L255.04,130.51 L254.34,130.87 L253.39,131.22 L252.19,131.54 L250.77,131.84 L249.14,132.11 L247.35,132.34 L245.41,132.53 L243.37,132.67 L241.25,132.77 L239.1,132.82 L236.95,132.83 L234.83,132.78 L232.79,132.68 L230.85,132.54 L229.06,132.36 L227.43,132.13 L226.01,131.86 L224.81,131.57 L223.86,131.24 L223.16,130.9 L222.74,130.54 L222.6,130.16Z" fill="url(#g_blue_3)"/>
<path d="M255.6,129.76 L255.46,130.13 L255.04,130.51 L254.34,130.87 L253.39,131.22 L252.19,131.54 L250.77,131.84 L249.14,132.11 L247.35,132.34 L245.41,132.53 L243.37,132.67 L241.25,132.77 L239.1,132.82 L236.95,132.83 L234.83,132.78 L232.79,132.68 L230.85,132.54 L229.06,132.36 L227.43,132.13 L226.01,131.86 L224.81,131.57 L223.86,131.24 L223.16,130.9 L222.74,130.54 L222.6,130.16 L222.74,129.79 L223.16,129.42 L223.86,129.05 L224.81,128.71 L226.01,128.38 L227.43,128.08 L229.06,127.81 L230.85,127.58 L232.79,127.4 L234.83,127.25 L236.95,127.15 L239.1,127.1 L241.25,127.1 L243.37,127.15 L245.41,127.24 L247.35,127.38 L249.14,127.57 L250.77,127.8 L252.19,128.06 L253.39,128.36 L254.34,128.68 L255.04,129.03 L255.46,129.39 L255.6,129.76Z" fill="url(#g_top)"/>
<path d="M273.3,342.68 L273.44,343.43 L273.85,344.17 L274.52,344.89 L275.44,345.58 L276.61,346.22 L277.99,346.81 L279.56,347.34 L281.3,347.78 L283.18,348.15 L285.16,348.43 L287.21,348.61 L289.3,348.7 L291.39,348.69 L293.44,348.58 L295.42,348.38 L297.3,348.08 L299.04,347.7 L300.61,347.23 L301.99,346.7 L303.16,346.1 L304.08,345.44 L304.75,344.75 L305.16,344.02 L305.3,343.27 L305.13,333.49 L305,334.21 L304.59,334.92 L303.91,335.61 L302.98,336.25 L301.82,336.83 L300.44,337.36 L298.86,337.81 L297.11,338.19 L295.23,338.48 L293.25,338.68 L291.19,338.79 L289.1,338.8 L287,338.72 L284.94,338.54 L282.96,338.27 L281.08,337.91 L279.33,337.47 L277.76,336.96 L276.37,336.39 L275.21,335.76 L274.28,335.09 L273.6,334.38 L273.2,333.66 L273.06,332.93Z" fill="url(#g_green_4)"/>
<path d="M273.06,332.93 L273.2,333.66 L273.6,334.38 L274.28,335.09 L275.21,335.76 L276.37,336.39 L277.76,336.96 L279.33,337.47 L281.08,337.91 L282.96,338.27 L284.94,338.54 L287,338.72 L289.1,338.8 L291.19,338.79 L293.25,338.68 L295.23,338.48 L297.11,338.19 L298.86,337.81 L300.44,337.36 L301.82,336.83 L302.98,336.25 L303.91,335.61 L304.59,334.92 L305,334.21 L305.13,333.49 L303.84,257.64 L303.7,258.24 L303.28,258.83 L302.59,259.39 L301.65,259.92 L300.46,260.41 L299.05,260.85 L297.45,261.23 L295.67,261.55 L293.76,261.8 L291.74,261.98 L289.64,262.08 L287.51,262.1 L285.38,262.04 L283.29,261.91 L281.26,261.7 L279.35,261.42 L277.57,261.07 L275.97,260.66 L274.56,260.19 L273.37,259.68 L272.43,259.14 L271.74,258.56 L271.33,257.97 L271.19,257.37Z" fill="url(#g_pink_4)"/>
<path d="M271.19,257.37 L271.33,257.97 L271.74,258.56 L272.43,259.14 L273.37,259.68 L274.56,260.19 L275.97,260.66 L277.57,261.07 L279.35,261.42 L281.26,261.7 L283.29,261.91 L285.38,262.04 L287.51,262.1 L289.64,262.08 L291.74,261.98 L293.76,261.8 L295.67,261.55 L297.45,261.23 L299.05,260.85 L300.46,260.41 L301.65,259.92 L302.59,259.39 L303.28,258.83 L303.7,258.24 L303.84,257.64 L301.7,132.64 L301.56,133.02 L301.13,133.4 L300.42,133.77 L299.45,134.12 L298.23,134.45 L296.78,134.75 L295.13,135.02 L293.3,135.24 L291.33,135.42 L289.25,135.56 L287.09,135.65 L284.9,135.69 L282.71,135.68 L280.55,135.62 L278.47,135.51 L276.5,135.35 L274.67,135.15 L273.02,134.9 L271.57,134.62 L270.35,134.31 L269.38,133.97 L268.67,133.61 L268.24,133.23 L268.1,132.85Z" fill="url(#g_yellow_4)"/>
<path d="M301.7,132.64 L301.56,133.02 L301.13,133.4 L300.42,133.77 L299.45,134.12 L298.23,134.45 L296.78,134.75 L295.13,135.02 L293.3,135.24 L291.33,135.42 L289.25,135.56 L287.09,135.65 L284.9,135.69 L282.71,135.68 L280.55,135.62 L278.47,135.51 L276.5,135.35 L274.67,135.15 L273.02,134.9 L271.57,134.62 L270.35,134.31 L269.38,133.97 L268.67,133.61 L268.24,133.23 L268.1,132.85 L268.24,132.47 L268.67,132.09 L269.38,131.72 L270.35,131.36 L271.57,131.04 L273.02,130.74 L274.67,130.47 L276.5,130.25 L278.47,130.07 L280.55,129.93 L282.71,129.84 L284.9,129.8 L287.09,129.81 L289.25,129.87 L291.33,129.98 L293.3,130.14 L295.13,130.34 L296.78,130.59 L298.23,130.87 L299.45,131.18 L300.42,131.52 L301.13,131.88 L301.56,132.25 L301.7,132.64Z" fill="url(#g_top)"/>
<path d="M317.6,347.94 L317.74,348.72 L318.16,349.5 L318.86,350.25 L319.81,350.97 L321.01,351.65 L322.43,352.27 L324.06,352.82 L325.85,353.3 L327.79,353.69 L329.83,353.99 L331.95,354.2 L334.1,354.3 L336.25,354.3 L338.37,354.2 L340.41,354 L342.35,353.7 L344.14,353.32 L345.77,352.84 L347.19,352.29 L348.39,351.67 L349.34,351 L350.04,350.28 L350.46,349.52 L350.6,348.75 L349.58,212.35 L349.43,212.88 L349,213.4 L348.29,213.9 L347.31,214.38 L346.08,214.81 L344.61,215.2 L342.95,215.54 L341.1,215.82 L339.12,216.04 L337.02,216.2 L334.84,216.28 L332.63,216.3 L330.42,216.25 L328.25,216.12 L326.15,215.93 L324.16,215.68 L322.31,215.36 L320.65,215 L319.19,214.58 L317.95,214.13 L316.97,213.64 L316.26,213.12 L315.83,212.59 L315.68,212.06Z" fill="url(#g_green_5)"/>
<path d="M315.68,212.06 L315.83,212.59 L316.26,213.12 L316.97,213.64 L317.95,214.13 L319.19,214.58 L320.65,215 L322.31,215.36 L324.16,215.68 L326.15,215.93 L328.25,216.12 L330.42,216.25 L332.63,216.3 L334.84,216.28 L337.02,216.2 L339.12,216.04 L341.1,215.82 L342.95,215.54 L344.61,215.2 L346.08,214.81 L347.31,214.38 L348.29,213.9 L349,213.4 L349.43,212.88 L349.58,212.35 L349.09,147.11 L348.94,147.53 L348.5,147.94 L347.78,148.33 L346.79,148.71 L345.54,149.06 L344.06,149.37 L342.38,149.65 L340.51,149.88 L338.5,150.06 L336.37,150.19 L334.17,150.27 L331.93,150.3 L329.69,150.27 L327.49,150.19 L325.36,150.05 L323.35,149.86 L321.48,149.63 L319.79,149.35 L318.31,149.03 L317.07,148.68 L316.07,148.3 L315.35,147.91 L314.91,147.49 L314.77,147.07Z" fill="url(#g_pink_5)"/>
<path d="M314.77,147.07 L314.91,147.49 L315.35,147.91 L316.07,148.3 L317.07,148.68 L318.31,149.03 L319.79,149.35 L321.48,149.63 L323.35,149.86 L325.36,150.05 L327.49,150.19 L329.69,150.27 L331.93,150.3 L334.17,150.27 L336.37,150.19 L338.5,150.06 L340.51,149.88 L342.38,149.65 L344.06,149.37 L345.54,149.06 L346.79,148.71 L347.78,148.33 L348.5,147.94 L348.94,147.53 L349.09,147.11 L349,135.14 L348.85,135.54 L348.41,135.93 L347.69,136.3 L346.7,136.66 L345.45,136.99 L343.96,137.29 L342.27,137.56 L340.4,137.78 L338.38,137.96 L336.25,138.09 L334.05,138.16 L331.8,138.19 L329.55,138.17 L327.35,138.09 L325.22,137.96 L323.2,137.79 L321.33,137.57 L319.64,137.31 L318.15,137.01 L316.9,136.68 L315.91,136.32 L315.19,135.94 L314.75,135.55 L314.6,135.15Z" fill="url(#g_yellow_5)"/>
<path d="M349,135.14 L348.85,135.54 L348.41,135.93 L347.69,136.3 L346.7,136.66 L345.45,136.99 L343.96,137.29 L342.27,137.56 L340.4,137.78 L338.38,137.96 L336.25,138.09 L334.05,138.16 L331.8,138.19 L329.55,138.17 L327.35,138.09 L325.22,137.96 L323.2,137.79 L321.33,137.57 L319.64,137.31 L318.15,137.01 L316.9,136.68 L315.91,136.32 L315.19,135.94 L314.75,135.55 L314.6,135.15 L314.75,134.76 L315.19,134.37 L315.91,133.99 L316.9,133.63 L318.15,133.3 L319.64,133 L321.33,132.73 L323.2,132.51 L325.22,132.33 L327.35,132.21 L329.55,132.13 L331.8,132.1 L334.05,132.13 L336.25,132.2 L338.38,132.33 L340.4,132.5 L342.27,132.72 L343.96,132.99 L345.45,133.29 L346.7,133.62 L347.69,133.97 L348.41,134.35 L348.85,134.74 L349,135.14Z" fill="url(#g_top)"/>
<path d="M364.1,353.79 L364.24,354.58 L364.66,355.36 L365.36,356.13 L366.31,356.86 L367.51,357.55 L368.93,358.19 L370.56,358.75 L372.35,359.24 L374.29,359.65 L376.33,359.97 L378.45,360.18 L380.6,360.3 L382.75,360.31 L384.87,360.23 L386.91,360.04 L388.85,359.75 L390.64,359.36 L392.27,358.9 L393.69,358.35 L394.89,357.73 L395.84,357.06 L396.54,356.33 L396.96,355.57 L397.1,354.8 L397.19,293.31 L397.04,293.98 L396.62,294.64 L395.91,295.26 L394.94,295.85 L393.73,296.38 L392.29,296.86 L390.64,297.27 L388.82,297.6 L386.86,297.86 L384.79,298.02 L382.64,298.11 L380.46,298.1 L378.27,298 L376.13,297.82 L374.06,297.56 L372.09,297.21 L370.28,296.79 L368.63,296.31 L367.19,295.76 L365.97,295.17 L365,294.54 L364.3,293.88 L363.87,293.21 L363.73,292.53Z" fill="url(#g_green_6)"/>
<path d="M363.73,292.53 L363.87,293.21 L364.3,293.88 L365,294.54 L365.97,295.17 L367.19,295.76 L368.63,296.31 L370.28,296.79 L372.09,297.21 L374.06,297.56 L376.13,297.82 L378.27,298 L380.46,298.1 L382.64,298.11 L384.79,298.02 L386.86,297.86 L388.82,297.6 L390.64,297.27 L392.29,296.86 L393.73,296.38 L394.94,295.85 L395.91,295.26 L396.62,294.64 L397.04,293.98 L397.19,293.31 L397.38,154.61 L397.23,155.04 L396.79,155.46 L396.06,155.87 L395.07,156.25 L393.81,156.6 L392.33,156.92 L390.63,157.19 L388.76,157.42 L386.74,157.6 L384.6,157.72 L382.39,157.79 L380.14,157.8 L377.89,157.76 L375.68,157.65 L373.54,157.5 L371.52,157.29 L369.64,157.04 L367.95,156.74 L366.46,156.4 L365.21,156.03 L364.21,155.64 L363.49,155.22 L363.05,154.79 L362.9,154.36Z" fill="url(#g_pink_6)"/>
<path d="M362.9,154.36 L363.05,154.79 L363.49,155.22 L364.21,155.64 L365.21,156.03 L366.46,156.4 L367.95,156.74 L369.64,157.04 L371.52,157.29 L373.54,157.5 L375.68,157.65 L377.89,157.76 L380.14,157.8 L382.39,157.79 L384.6,157.72 L386.74,157.6 L388.76,157.42 L390.63,157.19 L392.33,156.92 L393.81,156.6 L395.07,156.25 L396.06,155.87 L396.79,155.46 L397.23,155.04 L397.38,154.61 L397.4,138.4 L397.25,138.8 L396.81,139.2 L396.08,139.58 L395.08,139.93 L393.82,140.26 L392.33,140.56 L390.63,140.82 L388.75,141.03 L386.72,141.2 L384.58,141.32 L382.36,141.39 L380.1,141.4 L377.84,141.36 L375.62,141.27 L373.48,141.13 L371.45,140.94 L369.57,140.7 L367.87,140.43 L366.38,140.11 L365.12,139.77 L364.12,139.4 L363.39,139.01 L362.95,138.61 L362.8,138.21Z" fill="url(#g_yellow_6)"/>
<path d="M362.8,138.21 L362.95,138.61 L363.39,139.01 L364.12,139.4 L365.12,139.77 L366.38,140.11 L367.87,140.43 L369.57,140.7 L371.45,140.94 L373.48,141.13 L375.62,141.27 L377.84,141.36 L380.1,141.4 L382.36,141.39 L384.58,141.32 L386.72,141.2 L388.75,141.03 L390.63,140.82 L392.33,140.56 L393.82,140.26 L395.08,139.93 L396.08,139.58 L396.81,139.2 L397.25,138.8 L397.4,138.4 L397.4,138.19 L397.25,138.59 L396.81,138.99 L396.08,139.37 L395.08,139.72 L393.83,140.05 L392.33,140.35 L390.63,140.61 L388.75,140.82 L386.72,140.99 L384.58,141.11 L382.36,141.18 L380.1,141.19 L377.84,141.15 L375.62,141.06 L373.48,140.92 L371.45,140.73 L369.57,140.49 L367.87,140.22 L366.37,139.9 L365.12,139.56 L364.12,139.19 L363.39,138.81 L362.95,138.41 L362.8,138Z" fill="url(#g_blue_6)"/>
<path d="M397.4,138.19 L397.25,138.59 L396.81,138.99 L396.08,139.37 L395.08,139.72 L393.83,140.05 L392.33,140.35 L390.63,140.61 L388.75,140.82 L386.72,140.99 L384.58,141.11 L382.36,141.18 L380.1,141.19 L377.84,141.15 L375.62,141.06 L373.48,140.92 L371.45,140.73 L369.57,140.49 L367.87,140.22 L366.37,139.9 L365.12,139.56 L364.12,139.19 L363.39,138.81 L362.95,138.41 L362.8,138 L362.95,137.6 L363.39,137.2 L364.12,136.82 L365.12,136.47 L366.37,136.14 L367.87,135.84 L369.57,135.58 L371.45,135.37 L373.48,135.2 L375.62,135.08 L377.84,135.01 L380.1,135 L382.36,135.04 L384.58,135.13 L386.72,135.27 L388.75,135.46 L390.63,135.7 L392.33,135.97 L393.83,136.29 L395.08,136.63 L396.08,137 L396.81,137.39 L397.25,137.78 L397.4,138.19Z" fill="url(#g_top)"/>
<path d="M411.5,359.96 L411.64,360.77 L412.07,361.57 L412.77,362.35 L413.74,363.11 L414.95,363.82 L416.39,364.47 L418.03,365.06 L419.85,365.57 L421.81,366 L423.88,366.33 L426.02,366.57 L428.2,366.7 L430.38,366.73 L432.52,366.65 L434.59,366.47 L436.55,366.18 L438.37,365.8 L440.01,365.33 L441.45,364.78 L442.66,364.16 L443.63,363.47 L444.33,362.74 L444.76,361.97 L444.9,361.17 L446.3,264.88 L446.15,265.51 L445.71,266.12 L444.99,266.71 L444,267.25 L442.76,267.75 L441.28,268.19 L439.59,268.56 L437.73,268.87 L435.72,269.1 L433.6,269.25 L431.4,269.32 L429.16,269.3 L426.92,269.2 L424.72,269.02 L422.6,268.76 L420.59,268.43 L418.73,268.03 L417.04,267.57 L415.56,267.06 L414.32,266.5 L413.33,265.9 L412.61,265.28 L412.17,264.65 L412.02,264.01Z" fill="url(#g_green_7)"/>
<path d="M412.02,264.01 L412.17,264.65 L412.61,265.28 L413.33,265.9 L414.32,266.5 L415.56,267.06 L417.04,267.57 L418.73,268.03 L420.59,268.43 L422.6,268.76 L424.72,269.02 L426.92,269.2 L429.16,269.3 L431.4,269.32 L433.6,269.25 L435.72,269.1 L437.73,268.87 L439.59,268.56 L441.28,268.19 L442.76,267.75 L444,267.25 L444.99,266.71 L445.71,266.12 L446.15,265.51 L446.3,264.88 L447.11,208.63 L446.96,209.16 L446.52,209.68 L445.79,210.17 L444.78,210.63 L443.52,211.06 L442.02,211.43 L440.31,211.75 L438.42,212.02 L436.38,212.21 L434.22,212.35 L431.99,212.41 L429.72,212.4 L427.45,212.32 L425.22,212.17 L423.07,211.96 L421.03,211.68 L419.13,211.35 L417.42,210.96 L415.92,210.53 L414.66,210.06 L413.65,209.56 L412.92,209.04 L412.48,208.5 L412.33,207.96Z" fill="url(#g_pink_7)"/>
<path d="M412.33,207.96 L412.48,208.5 L412.92,209.04 L413.65,209.56 L414.66,210.06 L415.92,210.53 L417.42,210.96 L419.13,211.35 L421.03,211.68 L423.07,211.96 L425.22,212.17 L427.45,212.32 L429.72,212.4 L431.99,212.41 L434.22,212.35 L436.38,212.21 L438.42,212.02 L440.31,211.75 L442.02,211.43 L443.52,211.06 L444.78,210.63 L445.79,210.17 L446.52,209.68 L446.96,209.16 L447.11,208.63 L448.1,140.5 L447.95,140.92 L447.5,141.32 L446.75,141.71 L445.73,142.07 L444.44,142.41 L442.92,142.7 L441.18,142.96 L439.25,143.17 L437.17,143.33 L434.98,143.44 L432.71,143.5 L430.4,143.5 L428.09,143.44 L425.82,143.34 L423.63,143.18 L421.55,142.97 L419.62,142.71 L417.88,142.42 L416.36,142.09 L415.07,141.72 L414.05,141.34 L413.3,140.93 L412.85,140.52 L412.7,140.1Z" fill="url(#g_yellow_7)"/>
<path d="M448.1,140.5 L447.95,140.92 L447.5,141.32 L446.75,141.71 L445.73,142.07 L444.44,142.41 L442.92,142.7 L441.18,142.96 L439.25,143.17 L437.17,143.33 L434.98,143.44 L432.71,143.5 L430.4,143.5 L428.09,143.44 L425.82,143.34 L423.63,143.18 L421.55,142.97 L419.62,142.71 L417.88,142.42 L416.36,142.09 L415.07,141.72 L414.05,141.34 L413.3,140.93 L412.85,140.52 L412.7,140.1 L412.85,139.68 L413.3,139.28 L414.05,138.89 L415.07,138.53 L416.36,138.19 L417.88,137.89 L419.62,137.64 L421.55,137.43 L423.63,137.27 L425.82,137.16 L428.09,137.1 L430.4,137.1 L432.71,137.15 L434.98,137.26 L437.17,137.42 L439.25,137.63 L441.18,137.88 L442.92,138.18 L444.44,138.51 L445.73,138.87 L446.75,139.26 L447.5,139.67 L447.95,140.08 L448.1,140.5Z" fill="url(#g_top)"/>
<path d="M460.1,365.82 L460.24,366.65 L460.68,367.47 L461.39,368.28 L462.36,369.05 L463.59,369.78 L465.05,370.46 L466.71,371.07 L468.55,371.6 L470.53,372.05 L472.63,372.4 L474.79,372.65 L477,372.8 L479.21,372.84 L481.37,372.77 L483.47,372.6 L485.45,372.32 L487.29,371.94 L488.95,371.47 L490.41,370.92 L491.64,370.29 L492.61,369.6 L493.32,368.85 L493.76,368.06 L493.9,367.25 L496.7,267.71 L496.56,268.35 L496.11,268.97 L495.38,269.56 L494.38,270.1 L493.12,270.6 L491.62,271.04 L489.92,271.41 L488.03,271.71 L486,271.93 L483.85,272.07 L481.62,272.13 L479.36,272.1 L477.09,271.99 L474.87,271.79 L472.72,271.52 L470.69,271.17 L468.8,270.75 L467.09,270.27 L465.6,269.74 L464.34,269.17 L463.33,268.56 L462.6,267.93 L462.16,267.28 L462.01,266.63Z" fill="url(#g_green_8)"/>
<path d="M462.01,266.63 L462.16,267.28 L462.6,267.93 L463.33,268.56 L464.34,269.17 L465.6,269.74 L467.09,270.27 L468.8,270.75 L470.69,271.17 L472.72,271.52 L474.87,271.79 L477.09,271.99 L479.36,272.1 L481.62,272.13 L483.85,272.07 L486,271.93 L488.03,271.71 L489.92,271.41 L491.62,271.04 L493.12,270.6 L494.38,270.1 L495.38,269.56 L496.11,268.97 L496.56,268.35 L496.7,267.71 L499.95,152.44 L499.8,152.88 L499.34,153.31 L498.59,153.71 L497.56,154.09 L496.26,154.43 L494.72,154.74 L492.96,155 L491.02,155.21 L488.92,155.37 L486.71,155.47 L484.42,155.51 L482.09,155.5 L479.76,155.43 L477.47,155.3 L475.26,155.12 L473.16,154.88 L471.22,154.6 L469.46,154.28 L467.92,153.92 L466.62,153.52 L465.59,153.11 L464.84,152.68 L464.38,152.23 L464.23,151.79Z" fill="url(#g_pink_8)"/>
<path d="M464.23,151.79 L464.38,152.23 L464.84,152.68 L465.59,153.11 L466.62,153.52 L467.92,153.92 L469.46,154.28 L471.22,154.6 L473.16,154.88 L475.26,155.12 L477.47,155.3 L479.76,155.43 L482.09,155.5 L484.42,155.51 L486.71,155.47 L488.92,155.37 L491.02,155.21 L492.96,155 L494.72,154.74 L496.26,154.43 L497.56,154.09 L498.59,153.71 L499.34,153.31 L499.8,152.88 L499.95,152.44 L500.16,144.83 L500.01,145.25 L499.56,145.67 L498.8,146.06 L497.77,146.43 L496.47,146.76 L494.92,147.06 L493.16,147.31 L491.22,147.52 L489.12,147.67 L486.9,147.77 L484.61,147.81 L482.27,147.8 L479.93,147.73 L477.64,147.61 L475.42,147.43 L473.32,147.2 L471.38,146.93 L469.62,146.62 L468.07,146.27 L466.77,145.89 L465.74,145.48 L464.99,145.06 L464.53,144.64 L464.38,144.2Z" fill="url(#g_yellow_8)"/>
<path d="M464.38,144.2 L464.53,144.64 L464.99,145.06 L465.74,145.48 L466.77,145.89 L468.07,146.27 L469.62,146.62 L471.38,146.93 L473.32,147.2 L475.42,147.43 L477.64,147.61 L479.93,147.73 L482.27,147.8 L484.61,147.81 L486.9,147.77 L489.12,147.67 L491.22,147.52 L493.16,147.31 L494.92,147.06 L496.47,146.76 L497.77,146.43 L498.8,146.06 L499.56,145.67 L500.01,145.25 L500.16,144.83 L500.2,143.58 L500.05,144 L499.59,144.41 L498.84,144.8 L497.8,145.17 L496.5,145.5 L494.96,145.8 L493.2,146.05 L491.25,146.25 L489.15,146.4 L486.93,146.5 L484.64,146.55 L482.3,146.54 L479.96,146.47 L477.67,146.34 L475.45,146.17 L473.35,145.94 L471.4,145.67 L469.64,145.36 L468.1,145.01 L466.8,144.63 L465.76,144.23 L465.01,143.81 L464.55,143.39 L464.4,142.96Z" fill="url(#g_blue_8)"/>
<path d="M500.2,143.58 L500.05,144 L499.59,144.41 L498.84,144.8 L497.8,145.17 L496.5,145.5 L494.96,145.8 L493.2,146.05 L491.25,146.25 L489.15,146.4 L486.93,146.5 L484.64,146.55 L482.3,146.54 L479.96,146.47 L477.67,146.34 L475.45,146.17 L473.35,145.94 L471.4,145.67 L469.64,145.36 L468.1,145.01 L466.8,144.63 L465.76,144.23 L465.01,143.81 L464.55,143.39 L464.4,142.96 L464.55,142.53 L465.01,142.12 L465.76,141.73 L466.8,141.37 L468.1,141.03 L469.64,140.74 L471.4,140.49 L473.35,140.28 L475.45,140.13 L477.67,140.03 L479.96,139.99 L482.3,140 L484.64,140.07 L486.93,140.19 L489.15,140.37 L491.25,140.59 L493.2,140.86 L494.96,141.18 L496.5,141.52 L497.8,141.9 L498.84,142.3 L499.59,142.72 L500.05,143.15 L500.2,143.58Z" fill="url(#g_top)"/>
<path d="M510.5,371.66 L510.65,372.52 L511.09,373.37 L511.82,374.21 L512.83,375.02 L514.1,375.79 L515.6,376.5 L517.31,377.15 L519.2,377.71 L521.24,378.18 L523.4,378.56 L525.63,378.83 L527.9,379 L530.17,379.05 L532.4,379 L534.56,378.83 L536.6,378.55 L538.49,378.17 L540.2,377.69 L541.7,377.12 L542.97,376.48 L543.98,375.76 L544.71,374.99 L545.15,374.18 L545.3,373.34 L549.38,263.17 L549.23,263.81 L548.77,264.43 L548.03,265.02 L547,265.57 L545.7,266.06 L544.17,266.5 L542.42,266.86 L540.49,267.15 L538.4,267.37 L536.19,267.5 L533.91,267.54 L531.59,267.5 L529.27,267.37 L526.99,267.16 L524.78,266.88 L522.7,266.51 L520.76,266.08 L519.01,265.59 L517.48,265.05 L516.19,264.46 L515.16,263.84 L514.41,263.19 L513.95,262.54 L513.8,261.89Z" fill="url(#g_green_9)"/>
<path d="M513.8,261.89 L513.95,262.54 L514.41,263.19 L515.16,263.84 L516.19,264.46 L517.48,265.05 L519.01,265.59 L520.76,266.08 L522.7,266.51 L524.78,266.88 L526.99,267.16 L529.27,267.37 L531.59,267.5 L533.91,267.54 L536.19,267.5 L538.4,267.37 L540.49,267.15 L542.42,266.86 L544.17,266.5 L545.7,266.06 L547,265.57 L548.03,265.02 L548.77,264.43 L549.23,263.81 L549.38,263.17 L553.62,148.64 L553.46,149.08 L553,149.5 L552.24,149.9 L551.18,150.28 L549.86,150.61 L548.29,150.91 L546.5,151.16 L544.52,151.36 L542.39,151.51 L540.14,151.59 L537.8,151.63 L535.43,151.6 L533.05,151.52 L530.72,151.37 L528.47,151.18 L526.33,150.93 L524.35,150.64 L522.56,150.31 L520.99,149.94 L519.67,149.54 L518.62,149.12 L517.86,148.68 L517.39,148.23 L517.24,147.79Z" fill="url(#g_pink_9)"/>
<path d="M517.24,147.79 L517.39,148.23 L517.86,148.68 L518.62,149.12 L519.67,149.54 L520.99,149.94 L522.56,150.31 L524.35,150.64 L526.33,150.93 L528.47,151.18 L530.72,151.37 L533.05,151.52 L535.43,151.6 L537.8,151.63 L540.14,151.59 L542.39,151.51 L544.52,151.36 L546.5,151.16 L548.29,150.91 L549.86,150.61 L551.18,150.28 L552.24,149.9 L553,149.5 L553.46,149.08 L553.62,148.64 L553.66,147.65 L553.5,148.09 L553.04,148.51 L552.27,148.91 L551.22,149.28 L549.9,149.62 L548.33,149.91 L546.54,150.16 L544.56,150.36 L542.42,150.51 L540.17,150.59 L537.84,150.63 L535.46,150.6 L533.09,150.52 L530.75,150.38 L528.5,150.18 L526.36,149.94 L524.38,149.65 L522.59,149.31 L521.02,148.94 L519.7,148.55 L518.65,148.13 L517.88,147.69 L517.42,147.25 L517.26,146.8Z" fill="url(#g_yellow_9)"/>
<path d="M517.26,146.8 L517.42,147.25 L517.88,147.69 L518.65,148.13 L519.7,148.55 L521.02,148.94 L522.59,149.31 L524.38,149.65 L526.36,149.94 L528.5,150.18 L530.75,150.38 L533.09,150.52 L535.46,150.6 L537.84,150.63 L540.17,150.59 L542.42,150.51 L544.56,150.36 L546.54,150.16 L548.33,149.91 L549.9,149.62 L551.22,149.28 L552.27,148.91 L553.04,148.51 L553.5,148.09 L553.66,147.65 L553.7,146.48 L553.54,146.91 L553.08,147.33 L552.31,147.73 L551.26,148.1 L549.94,148.43 L548.37,148.73 L546.58,148.97 L544.6,149.17 L542.46,149.32 L540.21,149.41 L537.88,149.44 L535.5,149.41 L533.12,149.33 L530.79,149.19 L528.54,148.99 L526.4,148.75 L524.42,148.46 L522.63,148.13 L521.06,147.76 L519.74,147.37 L518.69,146.95 L517.92,146.52 L517.46,146.08 L517.3,145.63Z" fill="url(#g_blue_9)"/>
<path d="M553.7,146.48 L553.54,146.91 L553.08,147.33 L552.31,147.73 L551.26,148.1 L549.94,148.43 L548.37,148.73 L546.58,148.97 L544.6,149.17 L542.46,149.32 L540.21,149.41 L537.88,149.44 L535.5,149.41 L533.12,149.33 L530.79,149.19 L528.54,148.99 L526.4,148.75 L524.42,148.46 L522.63,148.13 L521.06,147.76 L519.74,147.37 L518.69,146.95 L517.92,146.52 L517.46,146.08 L517.3,145.63 L517.46,145.2 L517.92,144.78 L518.69,144.38 L519.74,144.01 L521.06,143.68 L522.63,143.38 L524.42,143.14 L526.4,142.94 L528.54,142.79 L530.79,142.71 L533.12,142.67 L535.5,142.7 L537.88,142.78 L540.21,142.92 L542.46,143.12 L544.6,143.36 L546.58,143.65 L548.37,143.98 L549.94,144.35 L551.26,144.74 L552.31,145.16 L553.08,145.59 L553.54,146.04 L553.7,146.48Z" fill="url(#g_top)"/>
<path d="M562.4,377.97 L562.55,378.85 L563,379.73 L563.75,380.6 L564.77,381.44 L566.06,382.23 L567.58,382.97 L569.32,383.64 L571.25,384.23 L573.33,384.73 L575.52,385.12 L577.79,385.42 L580.1,385.6 L582.41,385.67 L584.68,385.62 L586.87,385.46 L588.95,385.19 L590.88,384.8 L592.62,384.32 L594.14,383.75 L595.43,383.09 L596.45,382.37 L597.2,381.58 L597.65,380.75 L597.8,379.89 L601.06,316.85 L600.9,317.6 L600.45,318.32 L599.69,319.01 L598.65,319.64 L597.34,320.21 L595.79,320.7 L594.03,321.12 L592.07,321.45 L589.96,321.68 L587.74,321.82 L585.43,321.86 L583.08,321.8 L580.74,321.64 L578.43,321.38 L576.21,321.03 L574.1,320.6 L572.14,320.09 L570.37,319.5 L568.82,318.86 L567.52,318.17 L566.48,317.44 L565.72,316.68 L565.26,315.92 L565.11,315.15Z" fill="url(#g_green_10)"/>
<path d="M565.11,315.15 L565.26,315.92 L565.72,316.68 L566.48,317.44 L567.52,318.17 L568.82,318.86 L570.37,319.5 L572.14,320.09 L574.1,320.6 L576.21,321.03 L578.43,321.38 L580.74,321.64 L583.08,321.8 L585.43,321.86 L587.74,321.82 L589.96,321.68 L592.07,321.45 L594.03,321.12 L595.79,320.7 L597.34,320.21 L598.65,319.64 L599.69,319.01 L600.45,318.32 L600.9,317.6 L601.06,316.85 L608.95,164.09 L608.79,164.57 L608.32,165.02 L607.53,165.46 L606.46,165.85 L605.1,166.21 L603.49,166.53 L601.66,166.79 L599.63,166.99 L597.45,167.14 L595.14,167.22 L592.75,167.24 L590.32,167.2 L587.88,167.09 L585.49,166.93 L583.18,166.7 L581,166.42 L578.97,166.09 L577.14,165.72 L575.53,165.31 L574.18,164.86 L573.1,164.4 L572.31,163.92 L571.84,163.43 L571.68,162.95Z" fill="url(#g_pink_10)"/>
<path d="M571.68,162.95 L571.84,163.43 L572.31,163.92 L573.1,164.4 L574.18,164.86 L575.53,165.31 L577.14,165.72 L578.97,166.09 L581,166.42 L583.18,166.7 L585.49,166.93 L587.88,167.09 L590.32,167.2 L592.75,167.24 L595.14,167.22 L597.45,167.14 L599.63,166.99 L601.66,166.79 L603.49,166.53 L605.1,166.21 L606.46,165.85 L607.53,165.46 L608.32,165.02 L608.79,164.57 L608.95,164.09 L609.66,150.45 L609.5,150.9 L609.02,151.34 L608.23,151.75 L607.15,152.13 L605.79,152.47 L604.18,152.76 L602.34,153.01 L600.31,153.2 L598.12,153.34 L595.8,153.42 L593.4,153.44 L590.96,153.4 L588.52,153.3 L586.12,153.14 L583.81,152.93 L581.61,152.66 L579.58,152.35 L577.74,151.99 L576.13,151.6 L574.77,151.18 L573.69,150.74 L572.9,150.28 L572.42,149.82 L572.26,149.36Z" fill="url(#g_yellow_10)"/>
<path d="M572.26,149.36 L572.42,149.82 L572.9,150.28 L573.69,150.74 L574.77,151.18 L576.13,151.6 L577.74,151.99 L579.58,152.35 L581.61,152.66 L583.81,152.93 L586.12,153.14 L588.52,153.3 L590.96,153.4 L593.4,153.44 L595.8,153.42 L598.12,153.34 L600.31,153.2 L602.34,153.01 L604.18,152.76 L605.79,152.47 L607.15,152.13 L608.23,151.75 L609.02,151.34 L609.5,150.9 L609.66,150.45 L609.7,149.63 L609.54,150.08 L609.06,150.51 L608.28,150.92 L607.19,151.29 L605.84,151.63 L604.22,151.93 L602.38,152.17 L600.35,152.37 L598.16,152.51 L595.84,152.59 L593.44,152.6 L591,152.56 L588.56,152.46 L586.16,152.3 L583.84,152.09 L581.65,151.82 L579.62,151.51 L577.78,151.16 L576.16,150.77 L574.81,150.35 L573.72,149.91 L572.94,149.46 L572.46,149 L572.3,148.54Z" fill="url(#g_blue_10)"/>
<path d="M609.7,149.63 L609.54,150.08 L609.06,150.51 L608.28,150.92 L607.19,151.29 L605.84,151.63 L604.22,151.93 L602.38,152.17 L600.35,152.37 L598.16,152.51 L595.84,152.59 L593.44,152.6 L591,152.56 L588.56,152.46 L586.16,152.3 L583.84,152.09 L581.65,151.82 L579.62,151.51 L577.78,151.16 L576.16,150.77 L574.81,150.35 L573.72,149.91 L572.94,149.46 L572.46,149 L572.3,148.54 L572.46,148.09 L572.94,147.66 L573.72,147.25 L574.81,146.87 L576.16,146.53 L577.78,146.24 L579.62,145.99 L581.65,145.79 L583.84,145.66 L586.16,145.58 L588.56,145.56 L591,145.6 L593.44,145.7 L595.84,145.86 L598.16,146.07 L600.35,146.34 L602.38,146.65 L604.22,147 L605.84,147.39 L607.19,147.81 L608.28,148.25 L609.06,148.71 L609.54,149.17 L609.7,149.63Z" fill="url(#g_top)"/>
<path d="M615.9,384.79 L616.06,385.7 L616.52,386.62 L617.29,387.52 L618.34,388.4 L619.66,389.23 L621.23,390 L623.02,390.71 L625,391.33 L627.14,391.86 L629.39,392.28 L631.72,392.6 L634.1,392.8 L636.48,392.88 L638.81,392.85 L641.06,392.69 L643.2,392.42 L645.18,392.04 L646.97,391.55 L648.54,390.96 L649.86,390.29 L650.91,389.54 L651.68,388.73 L652.14,387.87 L652.3,386.98 L662.41,234.44 L662.24,235.05 L661.76,235.65 L660.96,236.21 L659.86,236.72 L658.47,237.18 L656.83,237.58 L654.96,237.92 L652.88,238.17 L650.65,238.35 L648.29,238.45 L645.85,238.47 L643.36,238.4 L640.87,238.25 L638.43,238.02 L636.07,237.72 L633.84,237.34 L631.76,236.9 L629.89,236.41 L628.25,235.86 L626.86,235.28 L625.76,234.67 L624.96,234.04 L624.48,233.4 L624.31,232.77Z" fill="url(#g_green_11)"/>
<path d="M624.31,232.77 L624.48,233.4 L624.96,234.04 L625.76,234.67 L626.86,235.28 L628.25,235.86 L629.89,236.41 L631.76,236.9 L633.84,237.34 L636.07,237.72 L638.43,238.02 L640.87,238.25 L643.36,238.4 L645.85,238.47 L648.29,238.45 L650.65,238.35 L652.88,238.17 L654.96,237.92 L656.83,237.58 L658.47,237.18 L659.86,236.72 L660.96,236.21 L661.76,235.65 L662.24,235.05 L662.41,234.44 L664.6,201.34 L664.44,201.9 L663.95,202.43 L663.14,202.94 L662.02,203.4 L660.63,203.82 L658.97,204.18 L657.08,204.47 L654.99,204.71 L652.73,204.87 L650.35,204.95 L647.88,204.96 L645.37,204.9 L642.86,204.76 L640.39,204.55 L638.01,204.27 L635.75,203.93 L633.66,203.53 L631.77,203.08 L630.11,202.59 L628.71,202.06 L627.6,201.51 L626.79,200.94 L626.3,200.36 L626.14,199.79Z" fill="url(#g_pink_11)"/>
<path d="M626.14,199.79 L626.3,200.36 L626.79,200.94 L627.6,201.51 L628.71,202.06 L630.11,202.59 L631.77,203.08 L633.66,203.53 L635.75,203.93 L638.01,204.27 L640.39,204.55 L642.86,204.76 L645.37,204.9 L647.88,204.96 L650.35,204.95 L652.73,204.87 L654.99,204.71 L657.08,204.47 L658.97,204.18 L660.63,203.82 L662.02,203.4 L663.14,202.94 L663.95,202.43 L664.44,201.9 L664.6,201.34 L667.7,154.5 L667.54,154.97 L667.04,155.43 L666.22,155.86 L665.09,156.25 L663.68,156.6 L661.99,156.9 L660.08,157.16 L657.96,157.35 L655.67,157.48 L653.26,157.55 L650.76,157.56 L648.21,157.5 L645.67,157.38 L643.17,157.2 L640.75,156.96 L638.47,156.66 L636.35,156.32 L634.43,155.94 L632.75,155.51 L631.33,155.06 L630.2,154.59 L629.38,154.11 L628.89,153.62 L628.72,153.13Z" fill="url(#g_yellow_11)"/>
<path d="M628.72,153.13 L628.89,153.62 L629.38,154.11 L630.2,154.59 L631.33,155.06 L632.75,155.51 L634.43,155.94 L636.35,156.32 L638.47,156.66 L640.75,156.96 L643.17,157.2 L645.67,157.38 L648.21,157.5 L650.76,157.56 L653.26,157.55 L655.67,157.48 L657.96,157.35 L660.08,157.16 L661.99,156.9 L663.68,156.6 L665.09,156.25 L666.22,155.86 L667.04,155.43 L667.54,154.97 L667.7,154.5 L667.8,153.05 L667.63,153.52 L667.14,153.97 L666.32,154.4 L665.19,154.79 L663.77,155.14 L662.09,155.44 L660.17,155.69 L658.05,155.88 L655.76,156.01 L653.35,156.08 L650.85,156.09 L648.3,156.03 L645.75,155.91 L643.25,155.73 L640.84,155.49 L638.55,155.2 L636.43,154.86 L634.51,154.48 L632.83,154.06 L631.41,153.61 L630.28,153.14 L629.46,152.66 L628.97,152.17 L628.8,151.68Z" fill="url(#g_blue_11)"/>
<path d="M667.8,153.05 L667.63,153.52 L667.14,153.97 L666.32,154.4 L665.19,154.79 L663.77,155.14 L662.09,155.44 L660.17,155.69 L658.05,155.88 L655.76,156.01 L653.35,156.08 L650.85,156.09 L648.3,156.03 L645.75,155.91 L643.25,155.73 L640.84,155.49 L638.55,155.2 L636.43,154.86 L634.51,154.48 L632.83,154.06 L631.41,153.61 L630.28,153.14 L629.46,152.66 L628.97,152.17 L628.8,151.68 L628.97,151.21 L629.46,150.76 L630.28,150.33 L631.41,149.94 L632.83,149.59 L634.51,149.29 L636.43,149.04 L638.55,148.85 L640.84,148.72 L643.25,148.65 L645.75,148.64 L648.3,148.7 L650.85,148.82 L653.35,149 L655.76,149.24 L658.05,149.53 L660.17,149.87 L662.09,150.26 L663.77,150.68 L665.19,151.12 L666.32,151.59 L667.14,152.08 L667.63,152.56 L667.8,153.05Z" fill="url(#g_top)"/>
<text x="62.4" y="130" text-anchor="end" class="ax">100%</text>
<text x="63.93" y="150.22" text-anchor="end" class="ax">90%</text>
<text x="65.46" y="170.44" text-anchor="end" class="ax">80%</text>
<text x="66.99" y="190.66" text-anchor="end" class="ax">70%</text>
<text x="68.52" y="210.88" text-anchor="end" class="ax">60%</text>
<text x="70.05" y="231.1" text-anchor="end" class="ax">50%</text>
<text x="71.58" y="251.32" text-anchor="end" class="ax">40%</text>
<text x="73.11" y="271.54" text-anchor="end" class="ax">30%</text>
<text x="74.64" y="291.76" text-anchor="end" class="ax">20%</text>
<text x="76.17" y="311.98" text-anchor="end" class="ax">10%</text>
<text x="77.7" y="332.2" text-anchor="end" class="ax">0%</text>
<text transform="translate(115,348.1) rotate(-45)" text-anchor="end" class="cat">Česko</text>
<text transform="translate(154.75,353.3) rotate(-45)" text-anchor="end" class="cat">Francúzsko</text>
<text transform="translate(196.3,358.6) rotate(-45)" text-anchor="end" class="cat">Holandsko</text>
<text transform="translate(239.05,364.3) rotate(-45)" text-anchor="end" class="cat">Chorvátsko</text>
<text transform="translate(283.1,370.1) rotate(-45)" text-anchor="end" class="cat">Írsko</text>
<text transform="translate(328.35,375.8) rotate(-45)" text-anchor="end" class="cat">Lotyšsko</text>
<text transform="translate(375.3,381.9) rotate(-45)" text-anchor="end" class="cat">Maďarsko</text>
<text transform="translate(423.35,388.4) rotate(-45)" text-anchor="end" class="cat">Nemecko</text>
<text transform="translate(472.6,394.6) rotate(-45)" text-anchor="end" class="cat">Poľsko</text>
<text transform="translate(523.95,400.9) rotate(-45)" text-anchor="end" class="cat">Slovensko</text>
<text transform="translate(576.6,407.6) rotate(-45)" text-anchor="end" class="cat">Slovinsko</text>
<text transform="translate(631.05,414.9) rotate(-45)" text-anchor="end" class="cat">Španielsko</text>
<rect x="722.6" y="252.7" width="7.7" height="7.7" fill="#0fa6d7" stroke="#0c8db6" stroke-width="0.8"/>
<text x="733" y="260.1" class="leg">iné</text>
<rect x="722.6" y="276.8" width="7.7" height="7.7" fill="#fdb813" stroke="#dc9c0c" stroke-width="0.8"/>
<text x="733" y="284.2" class="leg">dvojdomy</text>
<rect x="722.6" y="300.9" width="7.7" height="7.7" fill="#ef197e" stroke="#c91569" stroke-width="0.8"/>
<text x="733" y="308.3" class="leg">samostatné domy</text>
<rect x="722.6" y="325" width="7.7" height="7.7" fill="#7fd03a" stroke="#6bb231" stroke-width="0.8"/>
<text x="733" y="332.4" class="leg">byty</text>
</svg>
<div class="foot">FLATONIC s. r. o.</div>
</body></html>
